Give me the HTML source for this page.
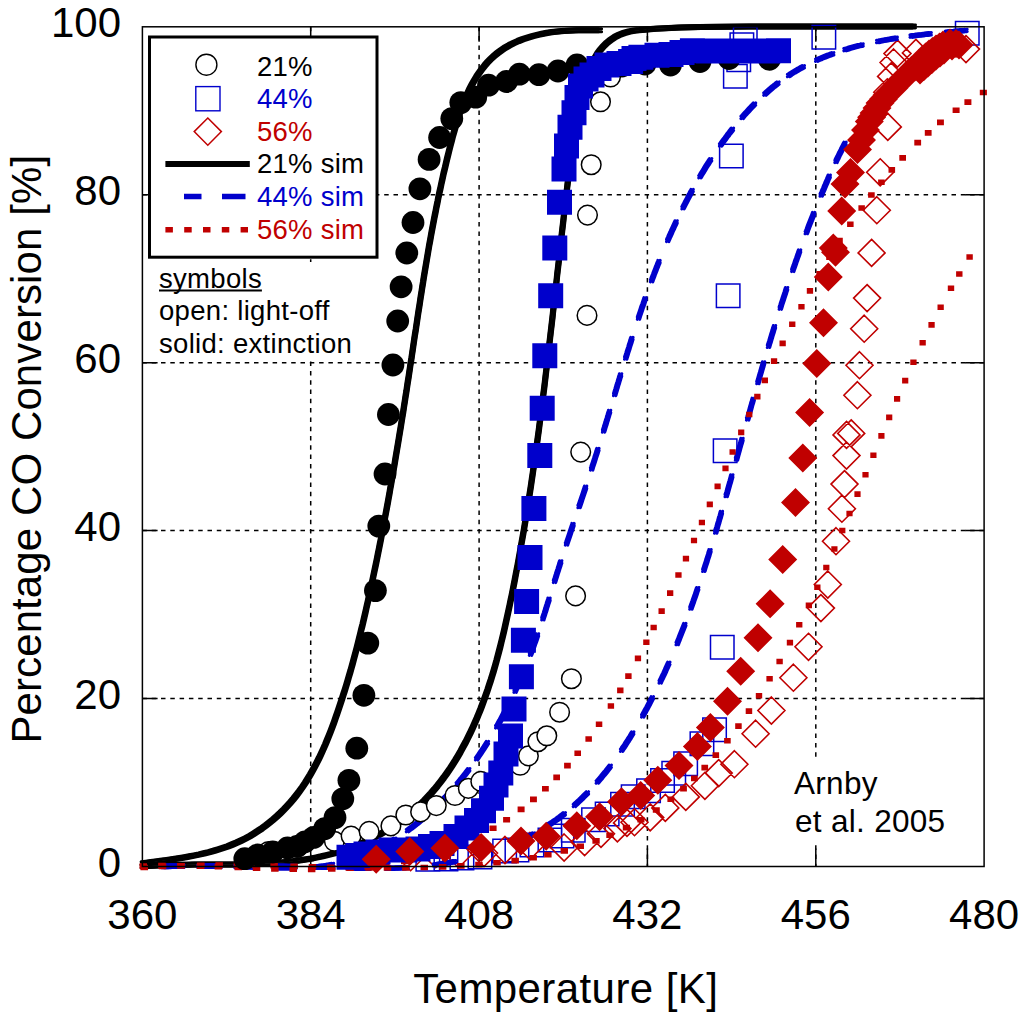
<!DOCTYPE html><html><head><meta charset="utf-8"><title>CO conversion</title><style>
html,body{margin:0;padding:0;background:#fff;width:1024px;height:1017px;overflow:hidden}
svg{display:block}text{font-family:"Liberation Sans",sans-serif}
</style></head><body>
<svg width="1024" height="1017" viewBox="0 0 1024 1017">
<rect width="1024" height="1017" fill="#fff"/>
<path d="M310.7,26.8V866.5 M479.1,26.8V866.5 M647.4,26.8V866.5 M815.8,26.8V866.5 M142.4,698.6H984.1 M142.4,530.6H984.1 M142.4,362.7H984.1 M142.4,194.7H984.1" stroke="#000" stroke-width="1.5" stroke-dasharray="4.5 4.8" fill="none"/>
<path d="M310.7,26.8v15 M310.7,866.5v-18 M479.1,26.8v15 M479.1,866.5v-18 M647.4,26.8v15 M647.4,866.5v-18 M815.8,26.8v15 M815.8,866.5v-18 M142.4,698.6h15.2 M984.1,698.6h-19 M142.4,530.6h15.2 M984.1,530.6h-19 M142.4,362.7h15.2 M984.1,362.7h-19 M142.4,194.7h15.2 M984.1,194.7h-19" stroke="#000" stroke-width="1.5" fill="none"/>
<rect x="786" y="758.5" width="166" height="83" fill="#fff"/>
<g>
<g><path transform="translate(-1.50,-1.50)" d="M142.6,863.3 L147.2,862.7 L151.9,862.1 L156.6,861.4 L161.4,860.8 L166.1,860.2 L170.9,859.5 L175.7,858.8 L180.6,858.0 L185.4,857.2 L190.2,856.3 L195.0,855.4 L199.8,854.4 L204.5,853.3 L209.3,852.1 L214.0,850.8 L218.6,849.4 L223.2,847.9 L227.8,846.3 L232.3,844.5 L236.7,842.7 L241.1,840.6 L245.4,838.5 L249.6,836.2 L253.7,833.7 L257.8,831.1 L261.8,828.4 L265.6,825.6 L269.4,822.6 L273.1,819.6 L276.8,816.4 L280.3,813.1 L283.7,809.7 L287.0,806.2 L290.2,802.7 L293.4,799.0 L296.4,795.2 L299.3,791.4 L302.1,787.5 L304.8,783.5 L307.4,779.4 L309.9,775.3 L312.3,771.1 L314.6,766.9 L316.8,762.6 L319.0,758.3 L321.1,753.9 L323.1,749.5 L325.1,745.0 L326.9,740.6 L328.8,736.0 L330.6,731.5 L332.3,727.0 L334.0,722.4 L335.6,717.8 L337.2,713.2 L338.8,708.6 L340.3,704.0 L341.8,699.5 L343.3,694.8 L344.8,690.2 L346.2,685.6 L347.6,681.0 L348.9,676.4 L350.3,671.8 L351.6,667.1 L352.9,662.5 L354.1,657.9 L355.4,653.2 L356.6,648.6 L357.8,643.9 L358.9,639.3 L360.1,634.6 L361.2,629.9 L362.4,625.3 L363.5,620.6 L364.6,615.9 L365.7,611.2 L366.7,606.5 L367.8,601.8 L368.8,597.1 L369.9,592.4 L370.9,587.7 L371.9,583.0 L372.9,578.3 L373.9,573.5 L374.9,568.8 L375.9,564.1 L376.9,559.3 L377.8,554.6 L378.8,549.8 L379.7,545.1 L380.7,540.3 L381.6,535.5 L382.5,530.8 L383.4,526.0 L384.3,521.2 L385.2,516.5 L386.1,511.7 L387.0,506.9 L387.9,502.1 L388.7,497.4 L389.6,492.6 L390.4,487.8 L391.3,483.0 L392.1,478.2 L393.0,473.4 L393.8,468.6 L394.6,463.9 L395.4,459.1 L396.2,454.3 L397.0,449.5 L397.8,444.7 L398.6,439.9 L399.4,435.1 L400.2,430.3 L401.0,425.5 L401.7,420.8 L402.5,416.0 L403.3,411.2 L404.0,406.4 L404.8,401.6 L405.5,396.8 L406.3,392.1 L407.0,387.3 L407.7,382.5 L408.5,377.7 L409.2,373.0 L409.9,368.2 L410.6,363.4 L411.4,358.7 L412.1,353.9 L412.8,349.2 L413.5,344.4 L414.2,339.6 L414.9,334.9 L415.7,330.2 L416.4,325.4 L417.1,320.7 L417.8,315.9 L418.5,311.2 L419.3,306.4 L420.0,301.7 L420.7,297.0 L421.5,292.2 L422.2,287.5 L423.0,282.8 L423.7,278.0 L424.5,273.3 L425.3,268.5 L426.1,263.8 L426.9,259.1 L427.7,254.3 L428.5,249.6 L429.3,244.8 L430.2,240.1 L431.0,235.4 L431.9,230.6 L432.8,225.9 L433.7,221.1 L434.6,216.4 L435.6,211.6 L436.5,206.8 L437.5,202.1 L438.4,197.3 L439.4,192.6 L440.5,187.8 L441.5,183.0 L442.6,178.2 L443.6,173.4 L444.8,168.7 L445.9,163.9 L447.0,159.1 L448.2,154.3 L449.4,149.5 L450.6,144.7 L451.9,139.9 L453.1,135.0 L454.5,130.3 L455.8,125.5 L457.3,120.8 L458.8,116.1 L460.3,111.4 L462.0,106.8 L463.7,102.3 L465.6,97.8 L467.5,93.5 L469.5,89.2 L471.7,85.0 L474.0,80.9 L476.4,76.9 L479.0,73.1 L481.7,69.4 L484.5,65.8 L487.5,62.3 L490.7,59.0 L494.1,55.9 L497.6,53.0 L501.4,50.2 L505.3,47.6 L509.5,45.2 L513.8,43.0 L518.3,41.0 L523.0,39.2 L527.8,37.6 L532.7,36.1 L537.6,34.9 L542.7,33.8 L547.7,32.8 L552.7,32.1 L557.7,31.5 L562.7,31.0 L567.6,30.7 L572.5,30.5 L577.3,30.3 L582.0,30.3 L586.6,30.2 L591.2,30.2 L595.7,30.3 L600.1,30.3" stroke="#000" stroke-width="3.00" stroke-linejoin="round" fill="none" stroke-linecap="round"/><path transform="translate(1.50,-1.50)" d="M142.6,863.3 L147.2,862.7 L151.9,862.1 L156.6,861.4 L161.4,860.8 L166.1,860.2 L170.9,859.5 L175.7,858.8 L180.6,858.0 L185.4,857.2 L190.2,856.3 L195.0,855.4 L199.8,854.4 L204.5,853.3 L209.3,852.1 L214.0,850.8 L218.6,849.4 L223.2,847.9 L227.8,846.3 L232.3,844.5 L236.7,842.7 L241.1,840.6 L245.4,838.5 L249.6,836.2 L253.7,833.7 L257.8,831.1 L261.8,828.4 L265.6,825.6 L269.4,822.6 L273.1,819.6 L276.8,816.4 L280.3,813.1 L283.7,809.7 L287.0,806.2 L290.2,802.7 L293.4,799.0 L296.4,795.2 L299.3,791.4 L302.1,787.5 L304.8,783.5 L307.4,779.4 L309.9,775.3 L312.3,771.1 L314.6,766.9 L316.8,762.6 L319.0,758.3 L321.1,753.9 L323.1,749.5 L325.1,745.0 L326.9,740.6 L328.8,736.0 L330.6,731.5 L332.3,727.0 L334.0,722.4 L335.6,717.8 L337.2,713.2 L338.8,708.6 L340.3,704.0 L341.8,699.5 L343.3,694.8 L344.8,690.2 L346.2,685.6 L347.6,681.0 L348.9,676.4 L350.3,671.8 L351.6,667.1 L352.9,662.5 L354.1,657.9 L355.4,653.2 L356.6,648.6 L357.8,643.9 L358.9,639.3 L360.1,634.6 L361.2,629.9 L362.4,625.3 L363.5,620.6 L364.6,615.9 L365.7,611.2 L366.7,606.5 L367.8,601.8 L368.8,597.1 L369.9,592.4 L370.9,587.7 L371.9,583.0 L372.9,578.3 L373.9,573.5 L374.9,568.8 L375.9,564.1 L376.9,559.3 L377.8,554.6 L378.8,549.8 L379.7,545.1 L380.7,540.3 L381.6,535.5 L382.5,530.8 L383.4,526.0 L384.3,521.2 L385.2,516.5 L386.1,511.7 L387.0,506.9 L387.9,502.1 L388.7,497.4 L389.6,492.6 L390.4,487.8 L391.3,483.0 L392.1,478.2 L393.0,473.4 L393.8,468.6 L394.6,463.9 L395.4,459.1 L396.2,454.3 L397.0,449.5 L397.8,444.7 L398.6,439.9 L399.4,435.1 L400.2,430.3 L401.0,425.5 L401.7,420.8 L402.5,416.0 L403.3,411.2 L404.0,406.4 L404.8,401.6 L405.5,396.8 L406.3,392.1 L407.0,387.3 L407.7,382.5 L408.5,377.7 L409.2,373.0 L409.9,368.2 L410.6,363.4 L411.4,358.7 L412.1,353.9 L412.8,349.2 L413.5,344.4 L414.2,339.6 L414.9,334.9 L415.7,330.2 L416.4,325.4 L417.1,320.7 L417.8,315.9 L418.5,311.2 L419.3,306.4 L420.0,301.7 L420.7,297.0 L421.5,292.2 L422.2,287.5 L423.0,282.8 L423.7,278.0 L424.5,273.3 L425.3,268.5 L426.1,263.8 L426.9,259.1 L427.7,254.3 L428.5,249.6 L429.3,244.8 L430.2,240.1 L431.0,235.4 L431.9,230.6 L432.8,225.9 L433.7,221.1 L434.6,216.4 L435.6,211.6 L436.5,206.8 L437.5,202.1 L438.4,197.3 L439.4,192.6 L440.5,187.8 L441.5,183.0 L442.6,178.2 L443.6,173.4 L444.8,168.7 L445.9,163.9 L447.0,159.1 L448.2,154.3 L449.4,149.5 L450.6,144.7 L451.9,139.9 L453.1,135.0 L454.5,130.3 L455.8,125.5 L457.3,120.8 L458.8,116.1 L460.3,111.4 L462.0,106.8 L463.7,102.3 L465.6,97.8 L467.5,93.5 L469.5,89.2 L471.7,85.0 L474.0,80.9 L476.4,76.9 L479.0,73.1 L481.7,69.4 L484.5,65.8 L487.5,62.3 L490.7,59.0 L494.1,55.9 L497.6,53.0 L501.4,50.2 L505.3,47.6 L509.5,45.2 L513.8,43.0 L518.3,41.0 L523.0,39.2 L527.8,37.6 L532.7,36.1 L537.6,34.9 L542.7,33.8 L547.7,32.8 L552.7,32.1 L557.7,31.5 L562.7,31.0 L567.6,30.7 L572.5,30.5 L577.3,30.3 L582.0,30.3 L586.6,30.2 L591.2,30.2 L595.7,30.3 L600.1,30.3" stroke="#000" stroke-width="3.00" stroke-linejoin="round" fill="none" stroke-linecap="round"/><path transform="translate(-1.50,1.50)" d="M142.6,863.3 L147.2,862.7 L151.9,862.1 L156.6,861.4 L161.4,860.8 L166.1,860.2 L170.9,859.5 L175.7,858.8 L180.6,858.0 L185.4,857.2 L190.2,856.3 L195.0,855.4 L199.8,854.4 L204.5,853.3 L209.3,852.1 L214.0,850.8 L218.6,849.4 L223.2,847.9 L227.8,846.3 L232.3,844.5 L236.7,842.7 L241.1,840.6 L245.4,838.5 L249.6,836.2 L253.7,833.7 L257.8,831.1 L261.8,828.4 L265.6,825.6 L269.4,822.6 L273.1,819.6 L276.8,816.4 L280.3,813.1 L283.7,809.7 L287.0,806.2 L290.2,802.7 L293.4,799.0 L296.4,795.2 L299.3,791.4 L302.1,787.5 L304.8,783.5 L307.4,779.4 L309.9,775.3 L312.3,771.1 L314.6,766.9 L316.8,762.6 L319.0,758.3 L321.1,753.9 L323.1,749.5 L325.1,745.0 L326.9,740.6 L328.8,736.0 L330.6,731.5 L332.3,727.0 L334.0,722.4 L335.6,717.8 L337.2,713.2 L338.8,708.6 L340.3,704.0 L341.8,699.5 L343.3,694.8 L344.8,690.2 L346.2,685.6 L347.6,681.0 L348.9,676.4 L350.3,671.8 L351.6,667.1 L352.9,662.5 L354.1,657.9 L355.4,653.2 L356.6,648.6 L357.8,643.9 L358.9,639.3 L360.1,634.6 L361.2,629.9 L362.4,625.3 L363.5,620.6 L364.6,615.9 L365.7,611.2 L366.7,606.5 L367.8,601.8 L368.8,597.1 L369.9,592.4 L370.9,587.7 L371.9,583.0 L372.9,578.3 L373.9,573.5 L374.9,568.8 L375.9,564.1 L376.9,559.3 L377.8,554.6 L378.8,549.8 L379.7,545.1 L380.7,540.3 L381.6,535.5 L382.5,530.8 L383.4,526.0 L384.3,521.2 L385.2,516.5 L386.1,511.7 L387.0,506.9 L387.9,502.1 L388.7,497.4 L389.6,492.6 L390.4,487.8 L391.3,483.0 L392.1,478.2 L393.0,473.4 L393.8,468.6 L394.6,463.9 L395.4,459.1 L396.2,454.3 L397.0,449.5 L397.8,444.7 L398.6,439.9 L399.4,435.1 L400.2,430.3 L401.0,425.5 L401.7,420.8 L402.5,416.0 L403.3,411.2 L404.0,406.4 L404.8,401.6 L405.5,396.8 L406.3,392.1 L407.0,387.3 L407.7,382.5 L408.5,377.7 L409.2,373.0 L409.9,368.2 L410.6,363.4 L411.4,358.7 L412.1,353.9 L412.8,349.2 L413.5,344.4 L414.2,339.6 L414.9,334.9 L415.7,330.2 L416.4,325.4 L417.1,320.7 L417.8,315.9 L418.5,311.2 L419.3,306.4 L420.0,301.7 L420.7,297.0 L421.5,292.2 L422.2,287.5 L423.0,282.8 L423.7,278.0 L424.5,273.3 L425.3,268.5 L426.1,263.8 L426.9,259.1 L427.7,254.3 L428.5,249.6 L429.3,244.8 L430.2,240.1 L431.0,235.4 L431.9,230.6 L432.8,225.9 L433.7,221.1 L434.6,216.4 L435.6,211.6 L436.5,206.8 L437.5,202.1 L438.4,197.3 L439.4,192.6 L440.5,187.8 L441.5,183.0 L442.6,178.2 L443.6,173.4 L444.8,168.7 L445.9,163.9 L447.0,159.1 L448.2,154.3 L449.4,149.5 L450.6,144.7 L451.9,139.9 L453.1,135.0 L454.5,130.3 L455.8,125.5 L457.3,120.8 L458.8,116.1 L460.3,111.4 L462.0,106.8 L463.7,102.3 L465.6,97.8 L467.5,93.5 L469.5,89.2 L471.7,85.0 L474.0,80.9 L476.4,76.9 L479.0,73.1 L481.7,69.4 L484.5,65.8 L487.5,62.3 L490.7,59.0 L494.1,55.9 L497.6,53.0 L501.4,50.2 L505.3,47.6 L509.5,45.2 L513.8,43.0 L518.3,41.0 L523.0,39.2 L527.8,37.6 L532.7,36.1 L537.6,34.9 L542.7,33.8 L547.7,32.8 L552.7,32.1 L557.7,31.5 L562.7,31.0 L567.6,30.7 L572.5,30.5 L577.3,30.3 L582.0,30.3 L586.6,30.2 L591.2,30.2 L595.7,30.3 L600.1,30.3" stroke="#000" stroke-width="3.00" stroke-linejoin="round" fill="none" stroke-linecap="round"/><path transform="translate(1.50,1.50)" d="M142.6,863.3 L147.2,862.7 L151.9,862.1 L156.6,861.4 L161.4,860.8 L166.1,860.2 L170.9,859.5 L175.7,858.8 L180.6,858.0 L185.4,857.2 L190.2,856.3 L195.0,855.4 L199.8,854.4 L204.5,853.3 L209.3,852.1 L214.0,850.8 L218.6,849.4 L223.2,847.9 L227.8,846.3 L232.3,844.5 L236.7,842.7 L241.1,840.6 L245.4,838.5 L249.6,836.2 L253.7,833.7 L257.8,831.1 L261.8,828.4 L265.6,825.6 L269.4,822.6 L273.1,819.6 L276.8,816.4 L280.3,813.1 L283.7,809.7 L287.0,806.2 L290.2,802.7 L293.4,799.0 L296.4,795.2 L299.3,791.4 L302.1,787.5 L304.8,783.5 L307.4,779.4 L309.9,775.3 L312.3,771.1 L314.6,766.9 L316.8,762.6 L319.0,758.3 L321.1,753.9 L323.1,749.5 L325.1,745.0 L326.9,740.6 L328.8,736.0 L330.6,731.5 L332.3,727.0 L334.0,722.4 L335.6,717.8 L337.2,713.2 L338.8,708.6 L340.3,704.0 L341.8,699.5 L343.3,694.8 L344.8,690.2 L346.2,685.6 L347.6,681.0 L348.9,676.4 L350.3,671.8 L351.6,667.1 L352.9,662.5 L354.1,657.9 L355.4,653.2 L356.6,648.6 L357.8,643.9 L358.9,639.3 L360.1,634.6 L361.2,629.9 L362.4,625.3 L363.5,620.6 L364.6,615.9 L365.7,611.2 L366.7,606.5 L367.8,601.8 L368.8,597.1 L369.9,592.4 L370.9,587.7 L371.9,583.0 L372.9,578.3 L373.9,573.5 L374.9,568.8 L375.9,564.1 L376.9,559.3 L377.8,554.6 L378.8,549.8 L379.7,545.1 L380.7,540.3 L381.6,535.5 L382.5,530.8 L383.4,526.0 L384.3,521.2 L385.2,516.5 L386.1,511.7 L387.0,506.9 L387.9,502.1 L388.7,497.4 L389.6,492.6 L390.4,487.8 L391.3,483.0 L392.1,478.2 L393.0,473.4 L393.8,468.6 L394.6,463.9 L395.4,459.1 L396.2,454.3 L397.0,449.5 L397.8,444.7 L398.6,439.9 L399.4,435.1 L400.2,430.3 L401.0,425.5 L401.7,420.8 L402.5,416.0 L403.3,411.2 L404.0,406.4 L404.8,401.6 L405.5,396.8 L406.3,392.1 L407.0,387.3 L407.7,382.5 L408.5,377.7 L409.2,373.0 L409.9,368.2 L410.6,363.4 L411.4,358.7 L412.1,353.9 L412.8,349.2 L413.5,344.4 L414.2,339.6 L414.9,334.9 L415.7,330.2 L416.4,325.4 L417.1,320.7 L417.8,315.9 L418.5,311.2 L419.3,306.4 L420.0,301.7 L420.7,297.0 L421.5,292.2 L422.2,287.5 L423.0,282.8 L423.7,278.0 L424.5,273.3 L425.3,268.5 L426.1,263.8 L426.9,259.1 L427.7,254.3 L428.5,249.6 L429.3,244.8 L430.2,240.1 L431.0,235.4 L431.9,230.6 L432.8,225.9 L433.7,221.1 L434.6,216.4 L435.6,211.6 L436.5,206.8 L437.5,202.1 L438.4,197.3 L439.4,192.6 L440.5,187.8 L441.5,183.0 L442.6,178.2 L443.6,173.4 L444.8,168.7 L445.9,163.9 L447.0,159.1 L448.2,154.3 L449.4,149.5 L450.6,144.7 L451.9,139.9 L453.1,135.0 L454.5,130.3 L455.8,125.5 L457.3,120.8 L458.8,116.1 L460.3,111.4 L462.0,106.8 L463.7,102.3 L465.6,97.8 L467.5,93.5 L469.5,89.2 L471.7,85.0 L474.0,80.9 L476.4,76.9 L479.0,73.1 L481.7,69.4 L484.5,65.8 L487.5,62.3 L490.7,59.0 L494.1,55.9 L497.6,53.0 L501.4,50.2 L505.3,47.6 L509.5,45.2 L513.8,43.0 L518.3,41.0 L523.0,39.2 L527.8,37.6 L532.7,36.1 L537.6,34.9 L542.7,33.8 L547.7,32.8 L552.7,32.1 L557.7,31.5 L562.7,31.0 L567.6,30.7 L572.5,30.5 L577.3,30.3 L582.0,30.3 L586.6,30.2 L591.2,30.2 L595.7,30.3 L600.1,30.3" stroke="#000" stroke-width="3.00" stroke-linejoin="round" fill="none" stroke-linecap="round"/></g>
<g><path transform="translate(-1.50,-1.50)" d="M142.6,866.4 L147.6,866.0 L152.6,865.7 L157.6,865.4 L162.7,865.2 L167.7,865.0 L172.8,864.9 L177.9,864.8 L183.0,864.7 L188.2,864.7 L193.3,864.6 L198.5,864.6 L203.7,864.6 L208.9,864.6 L214.0,864.6 L219.2,864.6 L224.4,864.6 L229.7,864.5 L234.9,864.5 L240.1,864.4 L245.3,864.3 L250.5,864.2 L255.7,864.0 L260.9,863.8 L266.0,863.5 L271.2,863.2 L276.4,862.8 L281.5,862.4 L286.7,861.9 L291.8,861.4 L296.9,860.7 L302.0,860.0 L307.0,859.2 L312.1,858.4 L317.1,857.4 L322.1,856.3 L327.0,855.1 L332.0,853.9 L336.9,852.5 L341.7,851.0 L346.6,849.3 L351.4,847.6 L356.1,845.7 L360.8,843.8 L365.5,841.7 L370.1,839.5 L374.7,837.2 L379.2,834.8 L383.6,832.2 L388.0,829.6 L392.3,826.9 L396.5,824.0 L400.7,821.0 L404.8,818.0 L408.8,814.8 L412.7,811.5 L416.5,808.1 L420.3,804.6 L423.9,801.0 L427.4,797.3 L430.9,793.5 L434.3,789.6 L437.5,785.7 L440.7,781.6 L443.8,777.5 L446.8,773.3 L449.8,769.0 L452.6,764.7 L455.4,760.3 L458.0,755.9 L460.6,751.4 L463.1,746.8 L465.6,742.3 L467.9,737.6 L470.2,733.0 L472.4,728.3 L474.5,723.6 L476.6,718.9 L478.5,714.2 L480.5,709.4 L482.3,704.6 L484.1,699.8 L485.8,695.0 L487.5,690.2 L489.1,685.3 L490.7,680.5 L492.2,675.6 L493.7,670.7 L495.1,665.8 L496.5,660.9 L497.8,655.9 L499.1,651.0 L500.4,646.0 L501.6,641.0 L502.8,636.1 L504.0,631.1 L505.1,626.1 L506.2,621.1 L507.3,616.1 L508.4,611.1 L509.5,606.0 L510.5,601.0 L511.6,596.0 L512.6,591.0 L513.6,585.9 L514.6,580.9 L515.5,575.9 L516.5,570.8 L517.5,565.8 L518.4,560.8 L519.3,555.7 L520.2,550.7 L521.1,545.6 L522.0,540.6 L522.9,535.5 L523.8,530.4 L524.6,525.4 L525.5,520.3 L526.3,515.2 L527.1,510.2 L527.9,505.1 L528.7,500.0 L529.5,494.9 L530.3,489.9 L531.1,484.8 L531.8,479.7 L532.6,474.6 L533.3,469.5 L534.1,464.4 L534.8,459.4 L535.5,454.3 L536.2,449.2 L536.9,444.1 L537.6,439.0 L538.3,433.9 L539.0,428.8 L539.6,423.7 L540.3,418.6 L541.0,413.5 L541.6,408.4 L542.3,403.3 L542.9,398.2 L543.5,393.1 L544.2,388.0 L544.8,382.8 L545.4,377.7 L546.0,372.6 L546.6,367.5 L547.3,362.4 L547.9,357.3 L548.5,352.2 L549.0,347.1 L549.6,342.0 L550.2,336.9 L550.8,331.7 L551.4,326.6 L552.0,321.5 L552.6,316.4 L553.1,311.3 L553.7,306.2 L554.3,301.1 L554.9,296.0 L555.4,290.9 L556.0,285.7 L556.6,280.6 L557.1,275.5 L557.7,270.4 L558.3,265.3 L558.9,260.2 L559.4,255.1 L560.0,250.0 L560.6,244.9 L561.1,239.8 L561.7,234.7 L562.3,229.6 L562.9,224.5 L563.5,219.4 L564.0,214.3 L564.6,209.2 L565.2,204.1 L565.8,199.0 L566.4,193.9 L567.0,188.9 L567.6,183.8 L568.2,178.7 L568.8,173.6 L569.5,168.5 L570.1,163.4 L570.8,158.4 L571.5,153.3 L572.2,148.2 L572.9,143.1 L573.7,138.0 L574.5,133.0 L575.3,127.9 L576.2,122.8 L577.1,117.7 L578.1,112.6 L579.1,107.5 L580.2,102.5 L581.3,97.4 L582.5,92.3 L583.8,87.2 L585.2,82.1 L586.7,77.2 L588.4,72.3 L590.2,67.5 L592.3,62.9 L594.6,58.5 L597.1,54.2 L600.0,50.2 L603.2,46.5 L606.6,43.1 L610.5,40.0 L614.6,37.2 L619.1,34.9 L624.0,33.0 L629.3,31.5 L634.9,30.5 L640.9,30.1 L655.0,28.8 L680.0,27.4 L700.0,26.9 L750.0,26.6 L914.0,26.5" stroke="#000" stroke-width="3.00" stroke-linejoin="round" fill="none" stroke-linecap="round"/><path transform="translate(1.50,-1.50)" d="M142.6,866.4 L147.6,866.0 L152.6,865.7 L157.6,865.4 L162.7,865.2 L167.7,865.0 L172.8,864.9 L177.9,864.8 L183.0,864.7 L188.2,864.7 L193.3,864.6 L198.5,864.6 L203.7,864.6 L208.9,864.6 L214.0,864.6 L219.2,864.6 L224.4,864.6 L229.7,864.5 L234.9,864.5 L240.1,864.4 L245.3,864.3 L250.5,864.2 L255.7,864.0 L260.9,863.8 L266.0,863.5 L271.2,863.2 L276.4,862.8 L281.5,862.4 L286.7,861.9 L291.8,861.4 L296.9,860.7 L302.0,860.0 L307.0,859.2 L312.1,858.4 L317.1,857.4 L322.1,856.3 L327.0,855.1 L332.0,853.9 L336.9,852.5 L341.7,851.0 L346.6,849.3 L351.4,847.6 L356.1,845.7 L360.8,843.8 L365.5,841.7 L370.1,839.5 L374.7,837.2 L379.2,834.8 L383.6,832.2 L388.0,829.6 L392.3,826.9 L396.5,824.0 L400.7,821.0 L404.8,818.0 L408.8,814.8 L412.7,811.5 L416.5,808.1 L420.3,804.6 L423.9,801.0 L427.4,797.3 L430.9,793.5 L434.3,789.6 L437.5,785.7 L440.7,781.6 L443.8,777.5 L446.8,773.3 L449.8,769.0 L452.6,764.7 L455.4,760.3 L458.0,755.9 L460.6,751.4 L463.1,746.8 L465.6,742.3 L467.9,737.6 L470.2,733.0 L472.4,728.3 L474.5,723.6 L476.6,718.9 L478.5,714.2 L480.5,709.4 L482.3,704.6 L484.1,699.8 L485.8,695.0 L487.5,690.2 L489.1,685.3 L490.7,680.5 L492.2,675.6 L493.7,670.7 L495.1,665.8 L496.5,660.9 L497.8,655.9 L499.1,651.0 L500.4,646.0 L501.6,641.0 L502.8,636.1 L504.0,631.1 L505.1,626.1 L506.2,621.1 L507.3,616.1 L508.4,611.1 L509.5,606.0 L510.5,601.0 L511.6,596.0 L512.6,591.0 L513.6,585.9 L514.6,580.9 L515.5,575.9 L516.5,570.8 L517.5,565.8 L518.4,560.8 L519.3,555.7 L520.2,550.7 L521.1,545.6 L522.0,540.6 L522.9,535.5 L523.8,530.4 L524.6,525.4 L525.5,520.3 L526.3,515.2 L527.1,510.2 L527.9,505.1 L528.7,500.0 L529.5,494.9 L530.3,489.9 L531.1,484.8 L531.8,479.7 L532.6,474.6 L533.3,469.5 L534.1,464.4 L534.8,459.4 L535.5,454.3 L536.2,449.2 L536.9,444.1 L537.6,439.0 L538.3,433.9 L539.0,428.8 L539.6,423.7 L540.3,418.6 L541.0,413.5 L541.6,408.4 L542.3,403.3 L542.9,398.2 L543.5,393.1 L544.2,388.0 L544.8,382.8 L545.4,377.7 L546.0,372.6 L546.6,367.5 L547.3,362.4 L547.9,357.3 L548.5,352.2 L549.0,347.1 L549.6,342.0 L550.2,336.9 L550.8,331.7 L551.4,326.6 L552.0,321.5 L552.6,316.4 L553.1,311.3 L553.7,306.2 L554.3,301.1 L554.9,296.0 L555.4,290.9 L556.0,285.7 L556.6,280.6 L557.1,275.5 L557.7,270.4 L558.3,265.3 L558.9,260.2 L559.4,255.1 L560.0,250.0 L560.6,244.9 L561.1,239.8 L561.7,234.7 L562.3,229.6 L562.9,224.5 L563.5,219.4 L564.0,214.3 L564.6,209.2 L565.2,204.1 L565.8,199.0 L566.4,193.9 L567.0,188.9 L567.6,183.8 L568.2,178.7 L568.8,173.6 L569.5,168.5 L570.1,163.4 L570.8,158.4 L571.5,153.3 L572.2,148.2 L572.9,143.1 L573.7,138.0 L574.5,133.0 L575.3,127.9 L576.2,122.8 L577.1,117.7 L578.1,112.6 L579.1,107.5 L580.2,102.5 L581.3,97.4 L582.5,92.3 L583.8,87.2 L585.2,82.1 L586.7,77.2 L588.4,72.3 L590.2,67.5 L592.3,62.9 L594.6,58.5 L597.1,54.2 L600.0,50.2 L603.2,46.5 L606.6,43.1 L610.5,40.0 L614.6,37.2 L619.1,34.9 L624.0,33.0 L629.3,31.5 L634.9,30.5 L640.9,30.1 L655.0,28.8 L680.0,27.4 L700.0,26.9 L750.0,26.6 L914.0,26.5" stroke="#000" stroke-width="3.00" stroke-linejoin="round" fill="none" stroke-linecap="round"/><path transform="translate(-1.50,1.50)" d="M142.6,866.4 L147.6,866.0 L152.6,865.7 L157.6,865.4 L162.7,865.2 L167.7,865.0 L172.8,864.9 L177.9,864.8 L183.0,864.7 L188.2,864.7 L193.3,864.6 L198.5,864.6 L203.7,864.6 L208.9,864.6 L214.0,864.6 L219.2,864.6 L224.4,864.6 L229.7,864.5 L234.9,864.5 L240.1,864.4 L245.3,864.3 L250.5,864.2 L255.7,864.0 L260.9,863.8 L266.0,863.5 L271.2,863.2 L276.4,862.8 L281.5,862.4 L286.7,861.9 L291.8,861.4 L296.9,860.7 L302.0,860.0 L307.0,859.2 L312.1,858.4 L317.1,857.4 L322.1,856.3 L327.0,855.1 L332.0,853.9 L336.9,852.5 L341.7,851.0 L346.6,849.3 L351.4,847.6 L356.1,845.7 L360.8,843.8 L365.5,841.7 L370.1,839.5 L374.7,837.2 L379.2,834.8 L383.6,832.2 L388.0,829.6 L392.3,826.9 L396.5,824.0 L400.7,821.0 L404.8,818.0 L408.8,814.8 L412.7,811.5 L416.5,808.1 L420.3,804.6 L423.9,801.0 L427.4,797.3 L430.9,793.5 L434.3,789.6 L437.5,785.7 L440.7,781.6 L443.8,777.5 L446.8,773.3 L449.8,769.0 L452.6,764.7 L455.4,760.3 L458.0,755.9 L460.6,751.4 L463.1,746.8 L465.6,742.3 L467.9,737.6 L470.2,733.0 L472.4,728.3 L474.5,723.6 L476.6,718.9 L478.5,714.2 L480.5,709.4 L482.3,704.6 L484.1,699.8 L485.8,695.0 L487.5,690.2 L489.1,685.3 L490.7,680.5 L492.2,675.6 L493.7,670.7 L495.1,665.8 L496.5,660.9 L497.8,655.9 L499.1,651.0 L500.4,646.0 L501.6,641.0 L502.8,636.1 L504.0,631.1 L505.1,626.1 L506.2,621.1 L507.3,616.1 L508.4,611.1 L509.5,606.0 L510.5,601.0 L511.6,596.0 L512.6,591.0 L513.6,585.9 L514.6,580.9 L515.5,575.9 L516.5,570.8 L517.5,565.8 L518.4,560.8 L519.3,555.7 L520.2,550.7 L521.1,545.6 L522.0,540.6 L522.9,535.5 L523.8,530.4 L524.6,525.4 L525.5,520.3 L526.3,515.2 L527.1,510.2 L527.9,505.1 L528.7,500.0 L529.5,494.9 L530.3,489.9 L531.1,484.8 L531.8,479.7 L532.6,474.6 L533.3,469.5 L534.1,464.4 L534.8,459.4 L535.5,454.3 L536.2,449.2 L536.9,444.1 L537.6,439.0 L538.3,433.9 L539.0,428.8 L539.6,423.7 L540.3,418.6 L541.0,413.5 L541.6,408.4 L542.3,403.3 L542.9,398.2 L543.5,393.1 L544.2,388.0 L544.8,382.8 L545.4,377.7 L546.0,372.6 L546.6,367.5 L547.3,362.4 L547.9,357.3 L548.5,352.2 L549.0,347.1 L549.6,342.0 L550.2,336.9 L550.8,331.7 L551.4,326.6 L552.0,321.5 L552.6,316.4 L553.1,311.3 L553.7,306.2 L554.3,301.1 L554.9,296.0 L555.4,290.9 L556.0,285.7 L556.6,280.6 L557.1,275.5 L557.7,270.4 L558.3,265.3 L558.9,260.2 L559.4,255.1 L560.0,250.0 L560.6,244.9 L561.1,239.8 L561.7,234.7 L562.3,229.6 L562.9,224.5 L563.5,219.4 L564.0,214.3 L564.6,209.2 L565.2,204.1 L565.8,199.0 L566.4,193.9 L567.0,188.9 L567.6,183.8 L568.2,178.7 L568.8,173.6 L569.5,168.5 L570.1,163.4 L570.8,158.4 L571.5,153.3 L572.2,148.2 L572.9,143.1 L573.7,138.0 L574.5,133.0 L575.3,127.9 L576.2,122.8 L577.1,117.7 L578.1,112.6 L579.1,107.5 L580.2,102.5 L581.3,97.4 L582.5,92.3 L583.8,87.2 L585.2,82.1 L586.7,77.2 L588.4,72.3 L590.2,67.5 L592.3,62.9 L594.6,58.5 L597.1,54.2 L600.0,50.2 L603.2,46.5 L606.6,43.1 L610.5,40.0 L614.6,37.2 L619.1,34.9 L624.0,33.0 L629.3,31.5 L634.9,30.5 L640.9,30.1 L655.0,28.8 L680.0,27.4 L700.0,26.9 L750.0,26.6 L914.0,26.5" stroke="#000" stroke-width="3.00" stroke-linejoin="round" fill="none" stroke-linecap="round"/><path transform="translate(1.50,1.50)" d="M142.6,866.4 L147.6,866.0 L152.6,865.7 L157.6,865.4 L162.7,865.2 L167.7,865.0 L172.8,864.9 L177.9,864.8 L183.0,864.7 L188.2,864.7 L193.3,864.6 L198.5,864.6 L203.7,864.6 L208.9,864.6 L214.0,864.6 L219.2,864.6 L224.4,864.6 L229.7,864.5 L234.9,864.5 L240.1,864.4 L245.3,864.3 L250.5,864.2 L255.7,864.0 L260.9,863.8 L266.0,863.5 L271.2,863.2 L276.4,862.8 L281.5,862.4 L286.7,861.9 L291.8,861.4 L296.9,860.7 L302.0,860.0 L307.0,859.2 L312.1,858.4 L317.1,857.4 L322.1,856.3 L327.0,855.1 L332.0,853.9 L336.9,852.5 L341.7,851.0 L346.6,849.3 L351.4,847.6 L356.1,845.7 L360.8,843.8 L365.5,841.7 L370.1,839.5 L374.7,837.2 L379.2,834.8 L383.6,832.2 L388.0,829.6 L392.3,826.9 L396.5,824.0 L400.7,821.0 L404.8,818.0 L408.8,814.8 L412.7,811.5 L416.5,808.1 L420.3,804.6 L423.9,801.0 L427.4,797.3 L430.9,793.5 L434.3,789.6 L437.5,785.7 L440.7,781.6 L443.8,777.5 L446.8,773.3 L449.8,769.0 L452.6,764.7 L455.4,760.3 L458.0,755.9 L460.6,751.4 L463.1,746.8 L465.6,742.3 L467.9,737.6 L470.2,733.0 L472.4,728.3 L474.5,723.6 L476.6,718.9 L478.5,714.2 L480.5,709.4 L482.3,704.6 L484.1,699.8 L485.8,695.0 L487.5,690.2 L489.1,685.3 L490.7,680.5 L492.2,675.6 L493.7,670.7 L495.1,665.8 L496.5,660.9 L497.8,655.9 L499.1,651.0 L500.4,646.0 L501.6,641.0 L502.8,636.1 L504.0,631.1 L505.1,626.1 L506.2,621.1 L507.3,616.1 L508.4,611.1 L509.5,606.0 L510.5,601.0 L511.6,596.0 L512.6,591.0 L513.6,585.9 L514.6,580.9 L515.5,575.9 L516.5,570.8 L517.5,565.8 L518.4,560.8 L519.3,555.7 L520.2,550.7 L521.1,545.6 L522.0,540.6 L522.9,535.5 L523.8,530.4 L524.6,525.4 L525.5,520.3 L526.3,515.2 L527.1,510.2 L527.9,505.1 L528.7,500.0 L529.5,494.9 L530.3,489.9 L531.1,484.8 L531.8,479.7 L532.6,474.6 L533.3,469.5 L534.1,464.4 L534.8,459.4 L535.5,454.3 L536.2,449.2 L536.9,444.1 L537.6,439.0 L538.3,433.9 L539.0,428.8 L539.6,423.7 L540.3,418.6 L541.0,413.5 L541.6,408.4 L542.3,403.3 L542.9,398.2 L543.5,393.1 L544.2,388.0 L544.8,382.8 L545.4,377.7 L546.0,372.6 L546.6,367.5 L547.3,362.4 L547.9,357.3 L548.5,352.2 L549.0,347.1 L549.6,342.0 L550.2,336.9 L550.8,331.7 L551.4,326.6 L552.0,321.5 L552.6,316.4 L553.1,311.3 L553.7,306.2 L554.3,301.1 L554.9,296.0 L555.4,290.9 L556.0,285.7 L556.6,280.6 L557.1,275.5 L557.7,270.4 L558.3,265.3 L558.9,260.2 L559.4,255.1 L560.0,250.0 L560.6,244.9 L561.1,239.8 L561.7,234.7 L562.3,229.6 L562.9,224.5 L563.5,219.4 L564.0,214.3 L564.6,209.2 L565.2,204.1 L565.8,199.0 L566.4,193.9 L567.0,188.9 L567.6,183.8 L568.2,178.7 L568.8,173.6 L569.5,168.5 L570.1,163.4 L570.8,158.4 L571.5,153.3 L572.2,148.2 L572.9,143.1 L573.7,138.0 L574.5,133.0 L575.3,127.9 L576.2,122.8 L577.1,117.7 L578.1,112.6 L579.1,107.5 L580.2,102.5 L581.3,97.4 L582.5,92.3 L583.8,87.2 L585.2,82.1 L586.7,77.2 L588.4,72.3 L590.2,67.5 L592.3,62.9 L594.6,58.5 L597.1,54.2 L600.0,50.2 L603.2,46.5 L606.6,43.1 L610.5,40.0 L614.6,37.2 L619.1,34.9 L624.0,33.0 L629.3,31.5 L634.9,30.5 L640.9,30.1 L655.0,28.8 L680.0,27.4 L700.0,26.9 L750.0,26.6 L914.0,26.5" stroke="#000" stroke-width="3.00" stroke-linejoin="round" fill="none" stroke-linecap="round"/></g>
<path d="M416.1,847.5h23.5v23.5h-23.5zM434.2,847.2h23.5v23.5h-23.5zM450.2,846.2h23.5v23.5h-23.5zM468.2,845.2h23.5v23.5h-23.5zM492.9,839.2h23.5v23.5h-23.5zM505.2,838.2h23.5v23.5h-23.5zM520.2,833.2h23.5v23.5h-23.5zM538.2,828.2h23.5v23.5h-23.5zM550.2,824.2h23.5v23.5h-23.5zM561.5,818.6h23.5v23.5h-23.5zM581.8,808.0h23.5v23.5h-23.5zM595.4,802.2h23.5v23.5h-23.5zM610.8,792.4h23.5v23.5h-23.5zM621.4,784.9h23.5v23.5h-23.5zM636.8,779.0h23.5v23.5h-23.5zM650.8,768.8h23.5v23.5h-23.5zM662.0,761.5h23.5v23.5h-23.5zM673.9,751.9h23.5v23.5h-23.5zM690.2,731.9h23.5v23.5h-23.5zM702.8,718.0h23.5v23.5h-23.5zM710.5,635.5h23.5v23.5h-23.5zM713.4,438.9h23.5v23.5h-23.5zM716.4,284.1h23.5v23.5h-23.5zM719.6,144.2h23.5v23.5h-23.5zM723.6,64.5h23.5v23.5h-23.5zM727.0,47.9h23.5v23.5h-23.5zM730.1,33.1h23.5v23.5h-23.5zM733.5,27.0h23.5v23.5h-23.5zM812.1,25.4h23.5v23.5h-23.5zM955.5,21.5h23.5v23.5h-23.5z" fill="none" stroke="#0000cc" stroke-width="1.5"/>
<path d="M410.6,843.7l13.5,13.5l-13.5,13.5l-13.5,-13.5zM435.7,840.7l13.5,13.5l-13.5,13.5l-13.5,-13.5zM458.5,840.7l13.5,13.5l-13.5,13.5l-13.5,-13.5zM484.0,839.5l13.5,13.5l-13.5,13.5l-13.5,-13.5zM505.0,836.5l13.5,13.5l-13.5,13.5l-13.5,-13.5zM530.0,832.5l13.5,13.5l-13.5,13.5l-13.5,-13.5zM564.1,834.0l13.5,13.5l-13.5,13.5l-13.5,-13.5zM584.6,828.5l13.5,13.5l-13.5,13.5l-13.5,-13.5zM601.0,820.3l13.5,13.5l-13.5,13.5l-13.5,-13.5zM617.4,814.9l13.5,13.5l-13.5,13.5l-13.5,-13.5zM627.0,809.4l13.5,13.5l-13.5,13.5l-13.5,-13.5zM634.5,808.7l13.5,13.5l-13.5,13.5l-13.5,-13.5zM650.2,803.9l13.5,13.5l-13.5,13.5l-13.5,-13.5zM665.3,794.4l13.5,13.5l-13.5,13.5l-13.5,-13.5zM685.8,783.4l13.5,13.5l-13.5,13.5l-13.5,-13.5zM704.9,772.3l13.5,13.5l-13.5,13.5l-13.5,-13.5zM718.7,759.6l13.5,13.5l-13.5,13.5l-13.5,-13.5zM734.4,750.7l13.5,13.5l-13.5,13.5l-13.5,-13.5zM755.6,720.2l13.5,13.5l-13.5,13.5l-13.5,-13.5zM771.4,697.0l13.5,13.5l-13.5,13.5l-13.5,-13.5zM793.4,664.2l13.5,13.5l-13.5,13.5l-13.5,-13.5zM808.5,633.3l13.5,13.5l-13.5,13.5l-13.5,-13.5zM820.9,594.6l13.5,13.5l-13.5,13.5l-13.5,-13.5zM827.8,571.0l13.5,13.5l-13.5,13.5l-13.5,-13.5zM836.0,527.7l13.5,13.5l-13.5,13.5l-13.5,-13.5zM841.9,495.2l13.5,13.5l-13.5,13.5l-13.5,-13.5zM844.5,470.6l13.5,13.5l-13.5,13.5l-13.5,-13.5zM846.5,442.1l13.5,13.5l-13.5,13.5l-13.5,-13.5zM846.5,421.4l13.5,13.5l-13.5,13.5l-13.5,-13.5zM851.2,419.9l13.5,13.5l-13.5,13.5l-13.5,-13.5zM857.4,381.7l13.5,13.5l-13.5,13.5l-13.5,-13.5zM859.5,351.7l13.5,13.5l-13.5,13.5l-13.5,-13.5zM864.2,315.2l13.5,13.5l-13.5,13.5l-13.5,-13.5zM867.1,284.6l13.5,13.5l-13.5,13.5l-13.5,-13.5zM871.6,239.4l13.5,13.5l-13.5,13.5l-13.5,-13.5zM876.8,196.7l13.5,13.5l-13.5,13.5l-13.5,-13.5zM880.2,158.8l13.5,13.5l-13.5,13.5l-13.5,-13.5zM887.8,113.4l13.5,13.5l-13.5,13.5l-13.5,-13.5zM887.3,78.8l13.5,13.5l-13.5,13.5l-13.5,-13.5zM891.1,62.9l13.5,13.5l-13.5,13.5l-13.5,-13.5zM893.6,49.0l13.5,13.5l-13.5,13.5l-13.5,-13.5zM897.5,40.1l13.5,13.5l-13.5,13.5l-13.5,-13.5zM915.9,39.4l13.5,13.5l-13.5,13.5l-13.5,-13.5zM966.0,35.6l13.5,13.5l-13.5,13.5l-13.5,-13.5z" fill="none" stroke="#c00000" stroke-width="1.6"/>
<g><path transform="translate(-1.20,-1.20)" d="M162.3,866.2 L163.2,866.2 L165.1,866.2 L167.0,866.1 L168.8,866.1 L170.7,866.0 L172.6,866.0 L174.5,866.0 L176.3,866.0 L178.2,865.9 L180.1,865.9 L182.0,865.9 L182.8,865.9 M200.1,865.9 L200.8,865.9 L202.7,865.9 L204.5,865.9 L206.4,866.0 L208.3,866.0 L210.2,866.0 L212.1,866.0 L214.0,866.1 L215.8,866.1 L217.7,866.1 L219.6,866.2 L220.3,866.2 M235.9,866.5 L236.7,866.6 L238.6,866.6 L240.5,866.7 L242.4,866.7 L244.3,866.8 L246.2,866.8 L248.1,866.9 L250.0,866.9 L251.9,867.0 L253.8,867.1 L255.7,867.1 L256.4,867.1 M274.3,867.7 L274.9,867.7 L276.9,867.8 L278.8,867.8 L280.7,867.9 L282.7,867.9 L284.6,867.9 L286.5,867.9 L288.4,867.9 L290.4,867.9 L292.3,867.9 L294.2,867.9 L294.8,867.9 M312.8,867.1 L313.3,867.1 L315.1,866.9 L317.0,866.8 L318.9,866.6 L320.8,866.3 L322.6,866.1 L324.5,865.9 L326.4,865.6 L328.2,865.3 L330.1,865.0 L331.9,864.6 L332.5,864.5 M346.8,861.1 L348.2,860.7 L350.0,860.1 L351.8,859.6 L353.5,859.0 L355.3,858.4 L357.1,857.7 L358.8,857.1 L360.5,856.4 L362.3,855.8 L364.0,855.1 L364.5,854.9 M378.4,848.5 L379.2,848.1 L380.9,847.2 L382.5,846.3 L384.2,845.4 L385.8,844.5 L387.4,843.6 L389.1,842.7 L390.7,841.7 L392.3,840.7 L393.9,839.8 L394.8,839.2 M407.5,830.6 L407.9,830.3 L409.4,829.2 L410.9,828.1 L412.4,827.0 L413.9,825.8 L415.4,824.7 L416.8,823.5 L418.3,822.4 L419.7,821.2 L421.2,820.0 L422.3,819.1 M433.7,808.9 L433.8,808.8 L435.2,807.5 L436.5,806.2 L437.9,804.9 L439.2,803.6 L440.6,802.3 L441.9,800.9 L443.2,799.6 L444.5,798.2 L445.8,796.9 L447.0,795.6 M457.3,784.0 L458.3,782.8 L459.5,781.3 L460.7,779.8 L461.9,778.4 L463.1,776.9 L464.3,775.4 L465.5,773.9 L466.6,772.4 L467.8,770.9 L468.7,769.7 M476.6,758.8 L476.7,758.7 L477.8,757.1 L478.9,755.5 L480.0,753.9 L481.0,752.4 L482.1,750.8 L483.1,749.2 L484.2,747.6 L485.2,746.0 L486.2,744.4 L487.3,742.8 L487.4,742.6 M496.7,726.9 L497.1,726.3 L498.0,724.6 L498.9,723.0 L499.9,721.3 L500.8,719.6 L501.7,717.9 L502.6,716.2 L503.5,714.5 L504.4,712.8 L505.3,711.1 L506.2,709.4 L506.5,708.8 M515.1,691.2 L515.4,690.5 L516.2,688.7 L517.0,687.0 L517.8,685.2 L518.6,683.5 L519.3,681.7 L520.1,680.0 L520.9,678.2 L521.6,676.5 L522.4,674.7 L523.1,672.9 L523.3,672.4 M530.5,654.2 L530.8,653.5 L531.5,651.7 L532.2,649.9 L532.8,648.1 L533.5,646.4 L534.1,644.6 L534.7,642.8 L535.4,641.0 L536.0,639.3 L536.6,637.5 L537.2,635.7 L537.5,634.9 M542.9,618.8 L543.1,617.9 L543.7,616.1 L544.3,614.3 L544.8,612.6 L545.4,610.8 L546.0,609.0 L546.5,607.2 L547.1,605.4 L547.6,603.7 L548.2,601.9 L548.8,600.1 L549.0,599.2 M554.5,581.4 L554.8,580.5 L555.4,578.7 L555.9,577.0 L556.5,575.2 L557.0,573.4 L557.6,571.6 L558.2,569.8 L558.7,568.1 L559.3,566.3 L559.9,564.5 L560.4,562.7 L560.7,561.9 M566.5,544.0 L566.8,543.2 L567.4,541.4 L568.0,539.6 L568.6,537.9 L569.2,536.1 L569.8,534.3 L570.4,532.5 L571.0,530.7 L571.6,529.0 L572.2,527.2 L572.8,525.4 L573.0,524.6 M579.1,506.6 L579.4,505.8 L580.0,504.0 L580.6,502.3 L581.2,500.5 L581.8,498.7 L582.4,496.9 L583.0,495.1 L583.6,493.3 L584.2,491.5 L584.8,489.8 L585.4,488.0 L585.6,487.2 M591.6,469.0 L591.9,468.2 L592.4,466.4 L593.0,464.6 L593.6,462.8 L594.2,461.0 L594.8,459.2 L595.3,457.4 L595.9,455.6 L596.5,453.8 L597.1,452.0 L597.6,450.2 L597.9,449.5 M603.6,431.0 L603.8,430.3 L604.4,428.4 L604.9,426.6 L605.5,424.8 L606.1,423.0 L606.6,421.2 L607.2,419.4 L607.7,417.5 L608.3,415.7 L608.8,413.9 L609.4,412.1 L609.6,411.4 M614.7,394.5 L614.9,393.8 L615.4,392.0 L616.0,390.2 L616.5,388.4 L617.1,386.5 L617.6,384.7 L618.2,382.9 L618.7,381.1 L619.3,379.2 L619.8,377.4 L620.4,375.6 L620.6,374.9 M625.7,358.1 L625.9,357.4 L626.5,355.6 L627.1,353.7 L627.6,351.9 L628.2,350.1 L628.8,348.3 L629.3,346.5 L629.9,344.7 L630.5,342.8 L631.1,341.0 L631.6,339.2 L631.9,338.5 M638.5,318.2 L638.7,317.5 L639.3,315.7 L639.9,313.9 L640.5,312.1 L641.1,310.3 L641.7,308.5 L642.3,306.7 L643.0,304.9 L643.6,303.2 L644.2,301.4 L644.8,299.6 L645.1,298.8 M651.6,280.7 L651.9,280.0 L652.5,278.2 L653.2,276.4 L653.9,274.7 L654.5,272.9 L655.2,271.2 L655.9,269.4 L656.6,267.6 L657.3,265.9 L658.0,264.1 L658.7,262.4 L659.0,261.6 M667.7,240.5 L668.0,239.8 L668.8,238.0 L669.5,236.3 L670.3,234.6 L671.1,232.9 L671.8,231.2 L672.6,229.5 L673.4,227.8 L674.2,226.0 L675.0,224.3 L675.8,222.6 L676.1,221.9 M683.0,207.8 L683.2,207.5 L684.0,205.8 L684.9,204.1 L685.7,202.5 L686.6,200.8 L687.5,199.1 L688.3,197.5 L689.2,195.8 L690.1,194.2 L691.0,192.5 L691.9,190.9 L692.1,190.5 M699.9,176.8 L700.3,176.2 L701.2,174.6 L702.2,173.0 L703.2,171.4 L704.2,169.8 L705.1,168.2 L706.1,166.6 L707.1,165.0 L708.2,163.4 L709.2,161.8 L710.2,160.3 L710.6,159.7 M720.6,145.0 L720.8,144.7 L721.9,143.1 L723.0,141.6 L724.1,140.1 L725.3,138.6 L726.4,137.0 L727.5,135.5 L728.7,134.0 L729.8,132.5 L731.0,131.0 L732.2,129.5 L732.4,129.2 M742.1,117.5 L743.1,116.3 L744.3,114.9 L745.6,113.5 L746.9,112.1 L748.2,110.7 L749.5,109.3 L750.8,107.9 L752.1,106.5 L753.4,105.2 L754.5,104.1 M764.9,94.1 L765.7,93.4 L767.1,92.1 L768.5,90.9 L769.9,89.7 L771.4,88.4 L772.8,87.2 L774.3,86.0 L775.8,84.9 L777.2,83.7 L778.0,83.1 M788.6,75.5 L789.5,75.0 L791.0,73.9 L792.6,72.9 L794.2,71.9 L795.8,71.0 L797.5,70.0 L799.1,69.1 L800.7,68.1 L802.4,67.2 L803.3,66.7 M816.7,60.2 L817.6,59.8 L819.4,59.0 L821.1,58.3 L822.9,57.5 L824.6,56.8 L826.4,56.1 L828.2,55.4 L829.9,54.8 L831.7,54.1 L832.7,53.8 M845.0,49.7 L846.2,49.3 L848.0,48.8 L849.8,48.2 L851.7,47.7 L853.5,47.2 L855.3,46.7 L857.2,46.2 L859.0,45.7 L860.9,45.3 L862.1,45.0 M877.7,41.5 L879.4,41.2 L881.3,40.8 L883.2,40.4 L885.0,40.1 L886.9,39.8 L888.8,39.4 L890.7,39.1 L892.5,38.8 L894.4,38.5 L896.2,38.2 M911.2,36.1 L911.3,36.0 L913.2,35.8 L915.1,35.6 L916.9,35.3 L918.8,35.1 L920.7,34.9 L922.6,34.7 L924.5,34.4 L926.3,34.2 L928.2,34.0 L930.1,33.8 L930.2,33.8 M946.5,32.2 L946.9,32.2 L948.8,32.0 L950.7,31.8 L952.5,31.6 L954.4,31.5 L956.2,31.3 L958.1,31.1 L960.0,31.0 L961.8,30.8 L963.7,30.6 L965.5,30.5 L966.0,30.4" stroke="#0000cc" stroke-width="3.00" stroke-linejoin="round" fill="none" stroke-linecap="round"/><path transform="translate(1.20,-1.20)" d="M162.3,866.2 L163.2,866.2 L165.1,866.2 L167.0,866.1 L168.8,866.1 L170.7,866.0 L172.6,866.0 L174.5,866.0 L176.3,866.0 L178.2,865.9 L180.1,865.9 L182.0,865.9 L182.8,865.9 M200.1,865.9 L200.8,865.9 L202.7,865.9 L204.5,865.9 L206.4,866.0 L208.3,866.0 L210.2,866.0 L212.1,866.0 L214.0,866.1 L215.8,866.1 L217.7,866.1 L219.6,866.2 L220.3,866.2 M235.9,866.5 L236.7,866.6 L238.6,866.6 L240.5,866.7 L242.4,866.7 L244.3,866.8 L246.2,866.8 L248.1,866.9 L250.0,866.9 L251.9,867.0 L253.8,867.1 L255.7,867.1 L256.4,867.1 M274.3,867.7 L274.9,867.7 L276.9,867.8 L278.8,867.8 L280.7,867.9 L282.7,867.9 L284.6,867.9 L286.5,867.9 L288.4,867.9 L290.4,867.9 L292.3,867.9 L294.2,867.9 L294.8,867.9 M312.8,867.1 L313.3,867.1 L315.1,866.9 L317.0,866.8 L318.9,866.6 L320.8,866.3 L322.6,866.1 L324.5,865.9 L326.4,865.6 L328.2,865.3 L330.1,865.0 L331.9,864.6 L332.5,864.5 M346.8,861.1 L348.2,860.7 L350.0,860.1 L351.8,859.6 L353.5,859.0 L355.3,858.4 L357.1,857.7 L358.8,857.1 L360.5,856.4 L362.3,855.8 L364.0,855.1 L364.5,854.9 M378.4,848.5 L379.2,848.1 L380.9,847.2 L382.5,846.3 L384.2,845.4 L385.8,844.5 L387.4,843.6 L389.1,842.7 L390.7,841.7 L392.3,840.7 L393.9,839.8 L394.8,839.2 M407.5,830.6 L407.9,830.3 L409.4,829.2 L410.9,828.1 L412.4,827.0 L413.9,825.8 L415.4,824.7 L416.8,823.5 L418.3,822.4 L419.7,821.2 L421.2,820.0 L422.3,819.1 M433.7,808.9 L433.8,808.8 L435.2,807.5 L436.5,806.2 L437.9,804.9 L439.2,803.6 L440.6,802.3 L441.9,800.9 L443.2,799.6 L444.5,798.2 L445.8,796.9 L447.0,795.6 M457.3,784.0 L458.3,782.8 L459.5,781.3 L460.7,779.8 L461.9,778.4 L463.1,776.9 L464.3,775.4 L465.5,773.9 L466.6,772.4 L467.8,770.9 L468.7,769.7 M476.6,758.8 L476.7,758.7 L477.8,757.1 L478.9,755.5 L480.0,753.9 L481.0,752.4 L482.1,750.8 L483.1,749.2 L484.2,747.6 L485.2,746.0 L486.2,744.4 L487.3,742.8 L487.4,742.6 M496.7,726.9 L497.1,726.3 L498.0,724.6 L498.9,723.0 L499.9,721.3 L500.8,719.6 L501.7,717.9 L502.6,716.2 L503.5,714.5 L504.4,712.8 L505.3,711.1 L506.2,709.4 L506.5,708.8 M515.1,691.2 L515.4,690.5 L516.2,688.7 L517.0,687.0 L517.8,685.2 L518.6,683.5 L519.3,681.7 L520.1,680.0 L520.9,678.2 L521.6,676.5 L522.4,674.7 L523.1,672.9 L523.3,672.4 M530.5,654.2 L530.8,653.5 L531.5,651.7 L532.2,649.9 L532.8,648.1 L533.5,646.4 L534.1,644.6 L534.7,642.8 L535.4,641.0 L536.0,639.3 L536.6,637.5 L537.2,635.7 L537.5,634.9 M542.9,618.8 L543.1,617.9 L543.7,616.1 L544.3,614.3 L544.8,612.6 L545.4,610.8 L546.0,609.0 L546.5,607.2 L547.1,605.4 L547.6,603.7 L548.2,601.9 L548.8,600.1 L549.0,599.2 M554.5,581.4 L554.8,580.5 L555.4,578.7 L555.9,577.0 L556.5,575.2 L557.0,573.4 L557.6,571.6 L558.2,569.8 L558.7,568.1 L559.3,566.3 L559.9,564.5 L560.4,562.7 L560.7,561.9 M566.5,544.0 L566.8,543.2 L567.4,541.4 L568.0,539.6 L568.6,537.9 L569.2,536.1 L569.8,534.3 L570.4,532.5 L571.0,530.7 L571.6,529.0 L572.2,527.2 L572.8,525.4 L573.0,524.6 M579.1,506.6 L579.4,505.8 L580.0,504.0 L580.6,502.3 L581.2,500.5 L581.8,498.7 L582.4,496.9 L583.0,495.1 L583.6,493.3 L584.2,491.5 L584.8,489.8 L585.4,488.0 L585.6,487.2 M591.6,469.0 L591.9,468.2 L592.4,466.4 L593.0,464.6 L593.6,462.8 L594.2,461.0 L594.8,459.2 L595.3,457.4 L595.9,455.6 L596.5,453.8 L597.1,452.0 L597.6,450.2 L597.9,449.5 M603.6,431.0 L603.8,430.3 L604.4,428.4 L604.9,426.6 L605.5,424.8 L606.1,423.0 L606.6,421.2 L607.2,419.4 L607.7,417.5 L608.3,415.7 L608.8,413.9 L609.4,412.1 L609.6,411.4 M614.7,394.5 L614.9,393.8 L615.4,392.0 L616.0,390.2 L616.5,388.4 L617.1,386.5 L617.6,384.7 L618.2,382.9 L618.7,381.1 L619.3,379.2 L619.8,377.4 L620.4,375.6 L620.6,374.9 M625.7,358.1 L625.9,357.4 L626.5,355.6 L627.1,353.7 L627.6,351.9 L628.2,350.1 L628.8,348.3 L629.3,346.5 L629.9,344.7 L630.5,342.8 L631.1,341.0 L631.6,339.2 L631.9,338.5 M638.5,318.2 L638.7,317.5 L639.3,315.7 L639.9,313.9 L640.5,312.1 L641.1,310.3 L641.7,308.5 L642.3,306.7 L643.0,304.9 L643.6,303.2 L644.2,301.4 L644.8,299.6 L645.1,298.8 M651.6,280.7 L651.9,280.0 L652.5,278.2 L653.2,276.4 L653.9,274.7 L654.5,272.9 L655.2,271.2 L655.9,269.4 L656.6,267.6 L657.3,265.9 L658.0,264.1 L658.7,262.4 L659.0,261.6 M667.7,240.5 L668.0,239.8 L668.8,238.0 L669.5,236.3 L670.3,234.6 L671.1,232.9 L671.8,231.2 L672.6,229.5 L673.4,227.8 L674.2,226.0 L675.0,224.3 L675.8,222.6 L676.1,221.9 M683.0,207.8 L683.2,207.5 L684.0,205.8 L684.9,204.1 L685.7,202.5 L686.6,200.8 L687.5,199.1 L688.3,197.5 L689.2,195.8 L690.1,194.2 L691.0,192.5 L691.9,190.9 L692.1,190.5 M699.9,176.8 L700.3,176.2 L701.2,174.6 L702.2,173.0 L703.2,171.4 L704.2,169.8 L705.1,168.2 L706.1,166.6 L707.1,165.0 L708.2,163.4 L709.2,161.8 L710.2,160.3 L710.6,159.7 M720.6,145.0 L720.8,144.7 L721.9,143.1 L723.0,141.6 L724.1,140.1 L725.3,138.6 L726.4,137.0 L727.5,135.5 L728.7,134.0 L729.8,132.5 L731.0,131.0 L732.2,129.5 L732.4,129.2 M742.1,117.5 L743.1,116.3 L744.3,114.9 L745.6,113.5 L746.9,112.1 L748.2,110.7 L749.5,109.3 L750.8,107.9 L752.1,106.5 L753.4,105.2 L754.5,104.1 M764.9,94.1 L765.7,93.4 L767.1,92.1 L768.5,90.9 L769.9,89.7 L771.4,88.4 L772.8,87.2 L774.3,86.0 L775.8,84.9 L777.2,83.7 L778.0,83.1 M788.6,75.5 L789.5,75.0 L791.0,73.9 L792.6,72.9 L794.2,71.9 L795.8,71.0 L797.5,70.0 L799.1,69.1 L800.7,68.1 L802.4,67.2 L803.3,66.7 M816.7,60.2 L817.6,59.8 L819.4,59.0 L821.1,58.3 L822.9,57.5 L824.6,56.8 L826.4,56.1 L828.2,55.4 L829.9,54.8 L831.7,54.1 L832.7,53.8 M845.0,49.7 L846.2,49.3 L848.0,48.8 L849.8,48.2 L851.7,47.7 L853.5,47.2 L855.3,46.7 L857.2,46.2 L859.0,45.7 L860.9,45.3 L862.1,45.0 M877.7,41.5 L879.4,41.2 L881.3,40.8 L883.2,40.4 L885.0,40.1 L886.9,39.8 L888.8,39.4 L890.7,39.1 L892.5,38.8 L894.4,38.5 L896.2,38.2 M911.2,36.1 L911.3,36.0 L913.2,35.8 L915.1,35.6 L916.9,35.3 L918.8,35.1 L920.7,34.9 L922.6,34.7 L924.5,34.4 L926.3,34.2 L928.2,34.0 L930.1,33.8 L930.2,33.8 M946.5,32.2 L946.9,32.2 L948.8,32.0 L950.7,31.8 L952.5,31.6 L954.4,31.5 L956.2,31.3 L958.1,31.1 L960.0,31.0 L961.8,30.8 L963.7,30.6 L965.5,30.5 L966.0,30.4" stroke="#0000cc" stroke-width="3.00" stroke-linejoin="round" fill="none" stroke-linecap="round"/><path transform="translate(-1.20,1.20)" d="M162.3,866.2 L163.2,866.2 L165.1,866.2 L167.0,866.1 L168.8,866.1 L170.7,866.0 L172.6,866.0 L174.5,866.0 L176.3,866.0 L178.2,865.9 L180.1,865.9 L182.0,865.9 L182.8,865.9 M200.1,865.9 L200.8,865.9 L202.7,865.9 L204.5,865.9 L206.4,866.0 L208.3,866.0 L210.2,866.0 L212.1,866.0 L214.0,866.1 L215.8,866.1 L217.7,866.1 L219.6,866.2 L220.3,866.2 M235.9,866.5 L236.7,866.6 L238.6,866.6 L240.5,866.7 L242.4,866.7 L244.3,866.8 L246.2,866.8 L248.1,866.9 L250.0,866.9 L251.9,867.0 L253.8,867.1 L255.7,867.1 L256.4,867.1 M274.3,867.7 L274.9,867.7 L276.9,867.8 L278.8,867.8 L280.7,867.9 L282.7,867.9 L284.6,867.9 L286.5,867.9 L288.4,867.9 L290.4,867.9 L292.3,867.9 L294.2,867.9 L294.8,867.9 M312.8,867.1 L313.3,867.1 L315.1,866.9 L317.0,866.8 L318.9,866.6 L320.8,866.3 L322.6,866.1 L324.5,865.9 L326.4,865.6 L328.2,865.3 L330.1,865.0 L331.9,864.6 L332.5,864.5 M346.8,861.1 L348.2,860.7 L350.0,860.1 L351.8,859.6 L353.5,859.0 L355.3,858.4 L357.1,857.7 L358.8,857.1 L360.5,856.4 L362.3,855.8 L364.0,855.1 L364.5,854.9 M378.4,848.5 L379.2,848.1 L380.9,847.2 L382.5,846.3 L384.2,845.4 L385.8,844.5 L387.4,843.6 L389.1,842.7 L390.7,841.7 L392.3,840.7 L393.9,839.8 L394.8,839.2 M407.5,830.6 L407.9,830.3 L409.4,829.2 L410.9,828.1 L412.4,827.0 L413.9,825.8 L415.4,824.7 L416.8,823.5 L418.3,822.4 L419.7,821.2 L421.2,820.0 L422.3,819.1 M433.7,808.9 L433.8,808.8 L435.2,807.5 L436.5,806.2 L437.9,804.9 L439.2,803.6 L440.6,802.3 L441.9,800.9 L443.2,799.6 L444.5,798.2 L445.8,796.9 L447.0,795.6 M457.3,784.0 L458.3,782.8 L459.5,781.3 L460.7,779.8 L461.9,778.4 L463.1,776.9 L464.3,775.4 L465.5,773.9 L466.6,772.4 L467.8,770.9 L468.7,769.7 M476.6,758.8 L476.7,758.7 L477.8,757.1 L478.9,755.5 L480.0,753.9 L481.0,752.4 L482.1,750.8 L483.1,749.2 L484.2,747.6 L485.2,746.0 L486.2,744.4 L487.3,742.8 L487.4,742.6 M496.7,726.9 L497.1,726.3 L498.0,724.6 L498.9,723.0 L499.9,721.3 L500.8,719.6 L501.7,717.9 L502.6,716.2 L503.5,714.5 L504.4,712.8 L505.3,711.1 L506.2,709.4 L506.5,708.8 M515.1,691.2 L515.4,690.5 L516.2,688.7 L517.0,687.0 L517.8,685.2 L518.6,683.5 L519.3,681.7 L520.1,680.0 L520.9,678.2 L521.6,676.5 L522.4,674.7 L523.1,672.9 L523.3,672.4 M530.5,654.2 L530.8,653.5 L531.5,651.7 L532.2,649.9 L532.8,648.1 L533.5,646.4 L534.1,644.6 L534.7,642.8 L535.4,641.0 L536.0,639.3 L536.6,637.5 L537.2,635.7 L537.5,634.9 M542.9,618.8 L543.1,617.9 L543.7,616.1 L544.3,614.3 L544.8,612.6 L545.4,610.8 L546.0,609.0 L546.5,607.2 L547.1,605.4 L547.6,603.7 L548.2,601.9 L548.8,600.1 L549.0,599.2 M554.5,581.4 L554.8,580.5 L555.4,578.7 L555.9,577.0 L556.5,575.2 L557.0,573.4 L557.6,571.6 L558.2,569.8 L558.7,568.1 L559.3,566.3 L559.9,564.5 L560.4,562.7 L560.7,561.9 M566.5,544.0 L566.8,543.2 L567.4,541.4 L568.0,539.6 L568.6,537.9 L569.2,536.1 L569.8,534.3 L570.4,532.5 L571.0,530.7 L571.6,529.0 L572.2,527.2 L572.8,525.4 L573.0,524.6 M579.1,506.6 L579.4,505.8 L580.0,504.0 L580.6,502.3 L581.2,500.5 L581.8,498.7 L582.4,496.9 L583.0,495.1 L583.6,493.3 L584.2,491.5 L584.8,489.8 L585.4,488.0 L585.6,487.2 M591.6,469.0 L591.9,468.2 L592.4,466.4 L593.0,464.6 L593.6,462.8 L594.2,461.0 L594.8,459.2 L595.3,457.4 L595.9,455.6 L596.5,453.8 L597.1,452.0 L597.6,450.2 L597.9,449.5 M603.6,431.0 L603.8,430.3 L604.4,428.4 L604.9,426.6 L605.5,424.8 L606.1,423.0 L606.6,421.2 L607.2,419.4 L607.7,417.5 L608.3,415.7 L608.8,413.9 L609.4,412.1 L609.6,411.4 M614.7,394.5 L614.9,393.8 L615.4,392.0 L616.0,390.2 L616.5,388.4 L617.1,386.5 L617.6,384.7 L618.2,382.9 L618.7,381.1 L619.3,379.2 L619.8,377.4 L620.4,375.6 L620.6,374.9 M625.7,358.1 L625.9,357.4 L626.5,355.6 L627.1,353.7 L627.6,351.9 L628.2,350.1 L628.8,348.3 L629.3,346.5 L629.9,344.7 L630.5,342.8 L631.1,341.0 L631.6,339.2 L631.9,338.5 M638.5,318.2 L638.7,317.5 L639.3,315.7 L639.9,313.9 L640.5,312.1 L641.1,310.3 L641.7,308.5 L642.3,306.7 L643.0,304.9 L643.6,303.2 L644.2,301.4 L644.8,299.6 L645.1,298.8 M651.6,280.7 L651.9,280.0 L652.5,278.2 L653.2,276.4 L653.9,274.7 L654.5,272.9 L655.2,271.2 L655.9,269.4 L656.6,267.6 L657.3,265.9 L658.0,264.1 L658.7,262.4 L659.0,261.6 M667.7,240.5 L668.0,239.8 L668.8,238.0 L669.5,236.3 L670.3,234.6 L671.1,232.9 L671.8,231.2 L672.6,229.5 L673.4,227.8 L674.2,226.0 L675.0,224.3 L675.8,222.6 L676.1,221.9 M683.0,207.8 L683.2,207.5 L684.0,205.8 L684.9,204.1 L685.7,202.5 L686.6,200.8 L687.5,199.1 L688.3,197.5 L689.2,195.8 L690.1,194.2 L691.0,192.5 L691.9,190.9 L692.1,190.5 M699.9,176.8 L700.3,176.2 L701.2,174.6 L702.2,173.0 L703.2,171.4 L704.2,169.8 L705.1,168.2 L706.1,166.6 L707.1,165.0 L708.2,163.4 L709.2,161.8 L710.2,160.3 L710.6,159.7 M720.6,145.0 L720.8,144.7 L721.9,143.1 L723.0,141.6 L724.1,140.1 L725.3,138.6 L726.4,137.0 L727.5,135.5 L728.7,134.0 L729.8,132.5 L731.0,131.0 L732.2,129.5 L732.4,129.2 M742.1,117.5 L743.1,116.3 L744.3,114.9 L745.6,113.5 L746.9,112.1 L748.2,110.7 L749.5,109.3 L750.8,107.9 L752.1,106.5 L753.4,105.2 L754.5,104.1 M764.9,94.1 L765.7,93.4 L767.1,92.1 L768.5,90.9 L769.9,89.7 L771.4,88.4 L772.8,87.2 L774.3,86.0 L775.8,84.9 L777.2,83.7 L778.0,83.1 M788.6,75.5 L789.5,75.0 L791.0,73.9 L792.6,72.9 L794.2,71.9 L795.8,71.0 L797.5,70.0 L799.1,69.1 L800.7,68.1 L802.4,67.2 L803.3,66.7 M816.7,60.2 L817.6,59.8 L819.4,59.0 L821.1,58.3 L822.9,57.5 L824.6,56.8 L826.4,56.1 L828.2,55.4 L829.9,54.8 L831.7,54.1 L832.7,53.8 M845.0,49.7 L846.2,49.3 L848.0,48.8 L849.8,48.2 L851.7,47.7 L853.5,47.2 L855.3,46.7 L857.2,46.2 L859.0,45.7 L860.9,45.3 L862.1,45.0 M877.7,41.5 L879.4,41.2 L881.3,40.8 L883.2,40.4 L885.0,40.1 L886.9,39.8 L888.8,39.4 L890.7,39.1 L892.5,38.8 L894.4,38.5 L896.2,38.2 M911.2,36.1 L911.3,36.0 L913.2,35.8 L915.1,35.6 L916.9,35.3 L918.8,35.1 L920.7,34.9 L922.6,34.7 L924.5,34.4 L926.3,34.2 L928.2,34.0 L930.1,33.8 L930.2,33.8 M946.5,32.2 L946.9,32.2 L948.8,32.0 L950.7,31.8 L952.5,31.6 L954.4,31.5 L956.2,31.3 L958.1,31.1 L960.0,31.0 L961.8,30.8 L963.7,30.6 L965.5,30.5 L966.0,30.4" stroke="#0000cc" stroke-width="3.00" stroke-linejoin="round" fill="none" stroke-linecap="round"/><path transform="translate(1.20,1.20)" d="M162.3,866.2 L163.2,866.2 L165.1,866.2 L167.0,866.1 L168.8,866.1 L170.7,866.0 L172.6,866.0 L174.5,866.0 L176.3,866.0 L178.2,865.9 L180.1,865.9 L182.0,865.9 L182.8,865.9 M200.1,865.9 L200.8,865.9 L202.7,865.9 L204.5,865.9 L206.4,866.0 L208.3,866.0 L210.2,866.0 L212.1,866.0 L214.0,866.1 L215.8,866.1 L217.7,866.1 L219.6,866.2 L220.3,866.2 M235.9,866.5 L236.7,866.6 L238.6,866.6 L240.5,866.7 L242.4,866.7 L244.3,866.8 L246.2,866.8 L248.1,866.9 L250.0,866.9 L251.9,867.0 L253.8,867.1 L255.7,867.1 L256.4,867.1 M274.3,867.7 L274.9,867.7 L276.9,867.8 L278.8,867.8 L280.7,867.9 L282.7,867.9 L284.6,867.9 L286.5,867.9 L288.4,867.9 L290.4,867.9 L292.3,867.9 L294.2,867.9 L294.8,867.9 M312.8,867.1 L313.3,867.1 L315.1,866.9 L317.0,866.8 L318.9,866.6 L320.8,866.3 L322.6,866.1 L324.5,865.9 L326.4,865.6 L328.2,865.3 L330.1,865.0 L331.9,864.6 L332.5,864.5 M346.8,861.1 L348.2,860.7 L350.0,860.1 L351.8,859.6 L353.5,859.0 L355.3,858.4 L357.1,857.7 L358.8,857.1 L360.5,856.4 L362.3,855.8 L364.0,855.1 L364.5,854.9 M378.4,848.5 L379.2,848.1 L380.9,847.2 L382.5,846.3 L384.2,845.4 L385.8,844.5 L387.4,843.6 L389.1,842.7 L390.7,841.7 L392.3,840.7 L393.9,839.8 L394.8,839.2 M407.5,830.6 L407.9,830.3 L409.4,829.2 L410.9,828.1 L412.4,827.0 L413.9,825.8 L415.4,824.7 L416.8,823.5 L418.3,822.4 L419.7,821.2 L421.2,820.0 L422.3,819.1 M433.7,808.9 L433.8,808.8 L435.2,807.5 L436.5,806.2 L437.9,804.9 L439.2,803.6 L440.6,802.3 L441.9,800.9 L443.2,799.6 L444.5,798.2 L445.8,796.9 L447.0,795.6 M457.3,784.0 L458.3,782.8 L459.5,781.3 L460.7,779.8 L461.9,778.4 L463.1,776.9 L464.3,775.4 L465.5,773.9 L466.6,772.4 L467.8,770.9 L468.7,769.7 M476.6,758.8 L476.7,758.7 L477.8,757.1 L478.9,755.5 L480.0,753.9 L481.0,752.4 L482.1,750.8 L483.1,749.2 L484.2,747.6 L485.2,746.0 L486.2,744.4 L487.3,742.8 L487.4,742.6 M496.7,726.9 L497.1,726.3 L498.0,724.6 L498.9,723.0 L499.9,721.3 L500.8,719.6 L501.7,717.9 L502.6,716.2 L503.5,714.5 L504.4,712.8 L505.3,711.1 L506.2,709.4 L506.5,708.8 M515.1,691.2 L515.4,690.5 L516.2,688.7 L517.0,687.0 L517.8,685.2 L518.6,683.5 L519.3,681.7 L520.1,680.0 L520.9,678.2 L521.6,676.5 L522.4,674.7 L523.1,672.9 L523.3,672.4 M530.5,654.2 L530.8,653.5 L531.5,651.7 L532.2,649.9 L532.8,648.1 L533.5,646.4 L534.1,644.6 L534.7,642.8 L535.4,641.0 L536.0,639.3 L536.6,637.5 L537.2,635.7 L537.5,634.9 M542.9,618.8 L543.1,617.9 L543.7,616.1 L544.3,614.3 L544.8,612.6 L545.4,610.8 L546.0,609.0 L546.5,607.2 L547.1,605.4 L547.6,603.7 L548.2,601.9 L548.8,600.1 L549.0,599.2 M554.5,581.4 L554.8,580.5 L555.4,578.7 L555.9,577.0 L556.5,575.2 L557.0,573.4 L557.6,571.6 L558.2,569.8 L558.7,568.1 L559.3,566.3 L559.9,564.5 L560.4,562.7 L560.7,561.9 M566.5,544.0 L566.8,543.2 L567.4,541.4 L568.0,539.6 L568.6,537.9 L569.2,536.1 L569.8,534.3 L570.4,532.5 L571.0,530.7 L571.6,529.0 L572.2,527.2 L572.8,525.4 L573.0,524.6 M579.1,506.6 L579.4,505.8 L580.0,504.0 L580.6,502.3 L581.2,500.5 L581.8,498.7 L582.4,496.9 L583.0,495.1 L583.6,493.3 L584.2,491.5 L584.8,489.8 L585.4,488.0 L585.6,487.2 M591.6,469.0 L591.9,468.2 L592.4,466.4 L593.0,464.6 L593.6,462.8 L594.2,461.0 L594.8,459.2 L595.3,457.4 L595.9,455.6 L596.5,453.8 L597.1,452.0 L597.6,450.2 L597.9,449.5 M603.6,431.0 L603.8,430.3 L604.4,428.4 L604.9,426.6 L605.5,424.8 L606.1,423.0 L606.6,421.2 L607.2,419.4 L607.7,417.5 L608.3,415.7 L608.8,413.9 L609.4,412.1 L609.6,411.4 M614.7,394.5 L614.9,393.8 L615.4,392.0 L616.0,390.2 L616.5,388.4 L617.1,386.5 L617.6,384.7 L618.2,382.9 L618.7,381.1 L619.3,379.2 L619.8,377.4 L620.4,375.6 L620.6,374.9 M625.7,358.1 L625.9,357.4 L626.5,355.6 L627.1,353.7 L627.6,351.9 L628.2,350.1 L628.8,348.3 L629.3,346.5 L629.9,344.7 L630.5,342.8 L631.1,341.0 L631.6,339.2 L631.9,338.5 M638.5,318.2 L638.7,317.5 L639.3,315.7 L639.9,313.9 L640.5,312.1 L641.1,310.3 L641.7,308.5 L642.3,306.7 L643.0,304.9 L643.6,303.2 L644.2,301.4 L644.8,299.6 L645.1,298.8 M651.6,280.7 L651.9,280.0 L652.5,278.2 L653.2,276.4 L653.9,274.7 L654.5,272.9 L655.2,271.2 L655.9,269.4 L656.6,267.6 L657.3,265.9 L658.0,264.1 L658.7,262.4 L659.0,261.6 M667.7,240.5 L668.0,239.8 L668.8,238.0 L669.5,236.3 L670.3,234.6 L671.1,232.9 L671.8,231.2 L672.6,229.5 L673.4,227.8 L674.2,226.0 L675.0,224.3 L675.8,222.6 L676.1,221.9 M683.0,207.8 L683.2,207.5 L684.0,205.8 L684.9,204.1 L685.7,202.5 L686.6,200.8 L687.5,199.1 L688.3,197.5 L689.2,195.8 L690.1,194.2 L691.0,192.5 L691.9,190.9 L692.1,190.5 M699.9,176.8 L700.3,176.2 L701.2,174.6 L702.2,173.0 L703.2,171.4 L704.2,169.8 L705.1,168.2 L706.1,166.6 L707.1,165.0 L708.2,163.4 L709.2,161.8 L710.2,160.3 L710.6,159.7 M720.6,145.0 L720.8,144.7 L721.9,143.1 L723.0,141.6 L724.1,140.1 L725.3,138.6 L726.4,137.0 L727.5,135.5 L728.7,134.0 L729.8,132.5 L731.0,131.0 L732.2,129.5 L732.4,129.2 M742.1,117.5 L743.1,116.3 L744.3,114.9 L745.6,113.5 L746.9,112.1 L748.2,110.7 L749.5,109.3 L750.8,107.9 L752.1,106.5 L753.4,105.2 L754.5,104.1 M764.9,94.1 L765.7,93.4 L767.1,92.1 L768.5,90.9 L769.9,89.7 L771.4,88.4 L772.8,87.2 L774.3,86.0 L775.8,84.9 L777.2,83.7 L778.0,83.1 M788.6,75.5 L789.5,75.0 L791.0,73.9 L792.6,72.9 L794.2,71.9 L795.8,71.0 L797.5,70.0 L799.1,69.1 L800.7,68.1 L802.4,67.2 L803.3,66.7 M816.7,60.2 L817.6,59.8 L819.4,59.0 L821.1,58.3 L822.9,57.5 L824.6,56.8 L826.4,56.1 L828.2,55.4 L829.9,54.8 L831.7,54.1 L832.7,53.8 M845.0,49.7 L846.2,49.3 L848.0,48.8 L849.8,48.2 L851.7,47.7 L853.5,47.2 L855.3,46.7 L857.2,46.2 L859.0,45.7 L860.9,45.3 L862.1,45.0 M877.7,41.5 L879.4,41.2 L881.3,40.8 L883.2,40.4 L885.0,40.1 L886.9,39.8 L888.8,39.4 L890.7,39.1 L892.5,38.8 L894.4,38.5 L896.2,38.2 M911.2,36.1 L911.3,36.0 L913.2,35.8 L915.1,35.6 L916.9,35.3 L918.8,35.1 L920.7,34.9 L922.6,34.7 L924.5,34.4 L926.3,34.2 L928.2,34.0 L930.1,33.8 L930.2,33.8 M946.5,32.2 L946.9,32.2 L948.8,32.0 L950.7,31.8 L952.5,31.6 L954.4,31.5 L956.2,31.3 L958.1,31.1 L960.0,31.0 L961.8,30.8 L963.7,30.6 L965.5,30.5 L966.0,30.4" stroke="#0000cc" stroke-width="3.00" stroke-linejoin="round" fill="none" stroke-linecap="round"/></g>
<g><path transform="translate(-1.20,-1.20)" d="M163.0,866.6 L163.4,866.5 L165.3,866.5 L167.2,866.5 L169.1,866.5 L171.0,866.4 L172.9,866.4 L174.8,866.4 L176.7,866.4 L178.6,866.3 L180.5,866.3 L182.4,866.3 L182.8,866.3 M198.8,866.1 L199.5,866.1 L201.4,866.1 L203.3,866.1 L205.2,866.1 L207.1,866.1 L209.0,866.0 L210.9,866.0 L212.8,866.0 L214.7,866.0 L216.6,866.0 L218.5,866.0 L219.2,866.0 M236.7,866.0 L237.5,866.0 L239.4,866.0 L241.3,866.0 L243.2,866.0 L245.1,866.0 L247.0,866.0 L248.9,866.0 L250.8,866.0 L252.7,866.0 L254.5,866.0 L256.4,866.0 L257.2,866.0 M274.6,866.2 L275.4,866.2 L277.3,866.2 L279.2,866.3 L281.1,866.3 L283.0,866.3 L284.9,866.3 L286.8,866.4 L288.7,866.4 L290.5,866.4 L292.4,866.5 L294.3,866.5 L295.1,866.5 M312.6,866.9 L313.3,866.9 L315.2,867.0 L317.1,867.0 L319.0,867.1 L320.9,867.1 L322.8,867.2 L324.7,867.2 L326.6,867.3 L328.5,867.4 L330.4,867.4 L332.3,867.5 L333.0,867.5 M348.7,868.0 L349.4,868.0 L351.3,868.0 L353.2,868.1 L355.1,868.1 L357.0,868.2 L358.9,868.2 L360.8,868.2 L362.7,868.3 L364.6,868.3 L366.5,868.3 L368.4,868.3 L369.1,868.4 M386.7,868.3 L387.4,868.3 L389.3,868.3 L391.2,868.2 L393.1,868.2 L395.0,868.1 L396.9,868.0 L398.8,868.0 L400.7,867.9 L402.6,867.8 L404.5,867.7 L406.4,867.6 L407.1,867.5 M434.4,864.9 L435.0,864.9 L436.9,864.6 L438.8,864.3 L440.7,864.0 L442.6,863.7 L444.5,863.4 L446.4,863.1 L448.3,862.8 L450.2,862.4 L452.1,862.1 L454.0,861.7 L454.6,861.6 M515.2,843.0 L515.9,842.7 L517.6,841.9 L519.3,841.1 L521.1,840.3 L522.8,839.5 L524.5,838.7 L526.2,837.8 L527.8,837.0 L529.5,836.1 L531.2,835.3 L532.8,834.4 L533.6,834.0 M548.8,824.9 L549.0,824.8 L550.5,823.8 L552.1,822.8 L553.6,821.7 L555.1,820.6 L556.7,819.6 L558.2,818.5 L559.7,817.4 L561.2,816.2 L562.6,815.1 L564.1,814.0 L564.3,813.8 M574.4,805.4 L575.5,804.3 L576.9,803.1 L578.3,801.8 L579.7,800.5 L581.0,799.2 L582.4,797.9 L583.7,796.6 L585.0,795.3 L586.3,794.0 L587.4,792.9 M597.3,782.0 L597.8,781.5 L599.0,780.1 L600.3,778.6 L601.5,777.2 L602.7,775.7 L603.9,774.2 L605.1,772.8 L606.3,771.3 L607.4,769.8 L608.6,768.3 L609.8,766.8 L610.2,766.2 M621.6,750.3 L622.0,749.7 L623.0,748.1 L624.1,746.6 L625.2,745.0 L626.2,743.3 L627.2,741.7 L628.3,740.1 L629.3,738.5 L630.3,736.9 L631.3,735.2 L632.3,733.6 L632.7,733.0 M642.7,715.9 L643.0,715.3 L643.9,713.6 L644.8,712.0 L645.7,710.3 L646.7,708.6 L647.6,706.9 L648.5,705.2 L649.4,703.5 L650.2,701.8 L651.1,700.1 L652.0,698.4 L652.3,697.8 M660.2,681.9 L660.5,681.2 L661.3,679.5 L662.1,677.8 L662.9,676.1 L663.8,674.3 L664.6,672.6 L665.4,670.9 L666.1,669.1 L666.9,667.4 L667.7,665.6 L668.5,663.9 L668.8,663.3 M677.2,643.6 L677.5,642.9 L678.2,641.1 L678.9,639.4 L679.6,637.6 L680.3,635.8 L681.0,634.0 L681.7,632.3 L682.4,630.5 L683.1,628.7 L683.8,627.0 L684.5,625.2 L684.8,624.5 M690.9,608.1 L691.1,607.4 L691.8,605.6 L692.4,603.8 L693.1,602.0 L693.7,600.2 L694.3,598.4 L695.0,596.6 L695.6,594.8 L696.2,593.0 L696.8,591.2 L697.4,589.4 L697.7,588.7 M703.8,570.3 L704.1,569.6 L704.6,567.8 L705.2,565.9 L705.8,564.1 L706.4,562.3 L707.0,560.5 L707.5,558.7 L708.1,556.9 L708.7,555.1 L709.2,553.2 L709.8,551.4 L710.0,550.7 M715.7,532.1 L715.9,531.4 L716.4,529.6 L717.0,527.8 L717.5,526.0 L718.0,524.1 L718.6,522.3 L719.1,520.5 L719.6,518.7 L720.2,516.8 L720.7,515.0 L721.2,513.2 L721.4,512.5 M726.2,495.6 L726.4,494.9 L727.0,493.1 L727.5,491.3 L728.0,489.4 L728.5,487.6 L729.0,485.8 L729.5,484.0 L730.1,482.1 L730.6,480.3 L731.1,478.5 L731.6,476.6 L731.8,475.9 M736.5,459.1 L736.7,458.4 L737.2,456.6 L737.7,454.7 L738.2,452.9 L738.7,451.1 L739.2,449.3 L739.7,447.4 L740.2,445.6 L740.7,443.8 L741.3,442.0 L741.8,440.1 L742.0,439.4 M747.6,419.0 L747.9,418.2 L748.4,416.4 L748.9,414.6 L749.4,412.8 L749.9,411.0 L750.4,409.1 L750.9,407.3 L751.4,405.5 L751.9,403.7 L752.5,401.9 L753.0,400.0 L753.2,399.3 M757.9,382.6 L758.1,381.8 L758.7,380.0 L759.2,378.2 L759.7,376.4 L760.2,374.6 L760.8,372.7 L761.3,370.9 L761.8,369.1 L762.3,367.3 L762.9,365.5 L763.4,363.7 L763.6,362.9 M768.5,346.3 L768.8,345.5 L769.3,343.7 L769.9,341.9 L770.4,340.1 L770.9,338.3 L771.5,336.5 L772.0,334.6 L772.6,332.8 L773.2,331.0 L773.7,329.2 L774.3,327.4 L774.5,326.7 M780.3,308.2 L780.5,307.5 L781.1,305.7 L781.6,303.9 L782.2,302.1 L782.8,300.3 L783.4,298.5 L784.0,296.7 L784.6,294.9 L785.2,293.1 L785.7,291.3 L786.3,289.5 L786.6,288.7 M792.8,270.4 L793.0,269.7 L793.6,267.9 L794.3,266.1 L794.9,264.3 L795.5,262.5 L796.1,260.7 L796.8,258.9 L797.4,257.1 L798.1,255.3 L798.7,253.5 L799.3,251.7 L799.6,251.0 M806.3,232.6 L806.6,232.0 L807.3,230.2 L807.9,228.4 L808.6,226.6 L809.3,224.8 L810.0,223.1 L810.7,221.3 L811.4,219.5 L812.1,217.7 L812.8,215.9 L813.5,214.1 L813.7,213.5 M821.2,195.1 L821.4,194.5 L822.2,192.7 L822.9,191.0 L823.7,189.2 L824.4,187.4 L825.2,185.6 L825.9,183.9 L826.7,182.1 L827.5,180.3 L828.2,178.5 L829.0,176.8 L829.2,176.2 M836.0,161.4 L836.2,160.9 L837.0,159.2 L837.9,157.5 L838.7,155.7 L839.5,154.0 L840.4,152.3 L841.3,150.6 L842.1,148.8 L843.0,147.1 L843.9,145.4 L844.8,143.7 L845.0,143.3" stroke="#0000cc" stroke-width="3.00" stroke-linejoin="round" fill="none" stroke-linecap="round"/><path transform="translate(1.20,-1.20)" d="M163.0,866.6 L163.4,866.5 L165.3,866.5 L167.2,866.5 L169.1,866.5 L171.0,866.4 L172.9,866.4 L174.8,866.4 L176.7,866.4 L178.6,866.3 L180.5,866.3 L182.4,866.3 L182.8,866.3 M198.8,866.1 L199.5,866.1 L201.4,866.1 L203.3,866.1 L205.2,866.1 L207.1,866.1 L209.0,866.0 L210.9,866.0 L212.8,866.0 L214.7,866.0 L216.6,866.0 L218.5,866.0 L219.2,866.0 M236.7,866.0 L237.5,866.0 L239.4,866.0 L241.3,866.0 L243.2,866.0 L245.1,866.0 L247.0,866.0 L248.9,866.0 L250.8,866.0 L252.7,866.0 L254.5,866.0 L256.4,866.0 L257.2,866.0 M274.6,866.2 L275.4,866.2 L277.3,866.2 L279.2,866.3 L281.1,866.3 L283.0,866.3 L284.9,866.3 L286.8,866.4 L288.7,866.4 L290.5,866.4 L292.4,866.5 L294.3,866.5 L295.1,866.5 M312.6,866.9 L313.3,866.9 L315.2,867.0 L317.1,867.0 L319.0,867.1 L320.9,867.1 L322.8,867.2 L324.7,867.2 L326.6,867.3 L328.5,867.4 L330.4,867.4 L332.3,867.5 L333.0,867.5 M348.7,868.0 L349.4,868.0 L351.3,868.0 L353.2,868.1 L355.1,868.1 L357.0,868.2 L358.9,868.2 L360.8,868.2 L362.7,868.3 L364.6,868.3 L366.5,868.3 L368.4,868.3 L369.1,868.4 M386.7,868.3 L387.4,868.3 L389.3,868.3 L391.2,868.2 L393.1,868.2 L395.0,868.1 L396.9,868.0 L398.8,868.0 L400.7,867.9 L402.6,867.8 L404.5,867.7 L406.4,867.6 L407.1,867.5 M434.4,864.9 L435.0,864.9 L436.9,864.6 L438.8,864.3 L440.7,864.0 L442.6,863.7 L444.5,863.4 L446.4,863.1 L448.3,862.8 L450.2,862.4 L452.1,862.1 L454.0,861.7 L454.6,861.6 M515.2,843.0 L515.9,842.7 L517.6,841.9 L519.3,841.1 L521.1,840.3 L522.8,839.5 L524.5,838.7 L526.2,837.8 L527.8,837.0 L529.5,836.1 L531.2,835.3 L532.8,834.4 L533.6,834.0 M548.8,824.9 L549.0,824.8 L550.5,823.8 L552.1,822.8 L553.6,821.7 L555.1,820.6 L556.7,819.6 L558.2,818.5 L559.7,817.4 L561.2,816.2 L562.6,815.1 L564.1,814.0 L564.3,813.8 M574.4,805.4 L575.5,804.3 L576.9,803.1 L578.3,801.8 L579.7,800.5 L581.0,799.2 L582.4,797.9 L583.7,796.6 L585.0,795.3 L586.3,794.0 L587.4,792.9 M597.3,782.0 L597.8,781.5 L599.0,780.1 L600.3,778.6 L601.5,777.2 L602.7,775.7 L603.9,774.2 L605.1,772.8 L606.3,771.3 L607.4,769.8 L608.6,768.3 L609.8,766.8 L610.2,766.2 M621.6,750.3 L622.0,749.7 L623.0,748.1 L624.1,746.6 L625.2,745.0 L626.2,743.3 L627.2,741.7 L628.3,740.1 L629.3,738.5 L630.3,736.9 L631.3,735.2 L632.3,733.6 L632.7,733.0 M642.7,715.9 L643.0,715.3 L643.9,713.6 L644.8,712.0 L645.7,710.3 L646.7,708.6 L647.6,706.9 L648.5,705.2 L649.4,703.5 L650.2,701.8 L651.1,700.1 L652.0,698.4 L652.3,697.8 M660.2,681.9 L660.5,681.2 L661.3,679.5 L662.1,677.8 L662.9,676.1 L663.8,674.3 L664.6,672.6 L665.4,670.9 L666.1,669.1 L666.9,667.4 L667.7,665.6 L668.5,663.9 L668.8,663.3 M677.2,643.6 L677.5,642.9 L678.2,641.1 L678.9,639.4 L679.6,637.6 L680.3,635.8 L681.0,634.0 L681.7,632.3 L682.4,630.5 L683.1,628.7 L683.8,627.0 L684.5,625.2 L684.8,624.5 M690.9,608.1 L691.1,607.4 L691.8,605.6 L692.4,603.8 L693.1,602.0 L693.7,600.2 L694.3,598.4 L695.0,596.6 L695.6,594.8 L696.2,593.0 L696.8,591.2 L697.4,589.4 L697.7,588.7 M703.8,570.3 L704.1,569.6 L704.6,567.8 L705.2,565.9 L705.8,564.1 L706.4,562.3 L707.0,560.5 L707.5,558.7 L708.1,556.9 L708.7,555.1 L709.2,553.2 L709.8,551.4 L710.0,550.7 M715.7,532.1 L715.9,531.4 L716.4,529.6 L717.0,527.8 L717.5,526.0 L718.0,524.1 L718.6,522.3 L719.1,520.5 L719.6,518.7 L720.2,516.8 L720.7,515.0 L721.2,513.2 L721.4,512.5 M726.2,495.6 L726.4,494.9 L727.0,493.1 L727.5,491.3 L728.0,489.4 L728.5,487.6 L729.0,485.8 L729.5,484.0 L730.1,482.1 L730.6,480.3 L731.1,478.5 L731.6,476.6 L731.8,475.9 M736.5,459.1 L736.7,458.4 L737.2,456.6 L737.7,454.7 L738.2,452.9 L738.7,451.1 L739.2,449.3 L739.7,447.4 L740.2,445.6 L740.7,443.8 L741.3,442.0 L741.8,440.1 L742.0,439.4 M747.6,419.0 L747.9,418.2 L748.4,416.4 L748.9,414.6 L749.4,412.8 L749.9,411.0 L750.4,409.1 L750.9,407.3 L751.4,405.5 L751.9,403.7 L752.5,401.9 L753.0,400.0 L753.2,399.3 M757.9,382.6 L758.1,381.8 L758.7,380.0 L759.2,378.2 L759.7,376.4 L760.2,374.6 L760.8,372.7 L761.3,370.9 L761.8,369.1 L762.3,367.3 L762.9,365.5 L763.4,363.7 L763.6,362.9 M768.5,346.3 L768.8,345.5 L769.3,343.7 L769.9,341.9 L770.4,340.1 L770.9,338.3 L771.5,336.5 L772.0,334.6 L772.6,332.8 L773.2,331.0 L773.7,329.2 L774.3,327.4 L774.5,326.7 M780.3,308.2 L780.5,307.5 L781.1,305.7 L781.6,303.9 L782.2,302.1 L782.8,300.3 L783.4,298.5 L784.0,296.7 L784.6,294.9 L785.2,293.1 L785.7,291.3 L786.3,289.5 L786.6,288.7 M792.8,270.4 L793.0,269.7 L793.6,267.9 L794.3,266.1 L794.9,264.3 L795.5,262.5 L796.1,260.7 L796.8,258.9 L797.4,257.1 L798.1,255.3 L798.7,253.5 L799.3,251.7 L799.6,251.0 M806.3,232.6 L806.6,232.0 L807.3,230.2 L807.9,228.4 L808.6,226.6 L809.3,224.8 L810.0,223.1 L810.7,221.3 L811.4,219.5 L812.1,217.7 L812.8,215.9 L813.5,214.1 L813.7,213.5 M821.2,195.1 L821.4,194.5 L822.2,192.7 L822.9,191.0 L823.7,189.2 L824.4,187.4 L825.2,185.6 L825.9,183.9 L826.7,182.1 L827.5,180.3 L828.2,178.5 L829.0,176.8 L829.2,176.2 M836.0,161.4 L836.2,160.9 L837.0,159.2 L837.9,157.5 L838.7,155.7 L839.5,154.0 L840.4,152.3 L841.3,150.6 L842.1,148.8 L843.0,147.1 L843.9,145.4 L844.8,143.7 L845.0,143.3" stroke="#0000cc" stroke-width="3.00" stroke-linejoin="round" fill="none" stroke-linecap="round"/><path transform="translate(-1.20,1.20)" d="M163.0,866.6 L163.4,866.5 L165.3,866.5 L167.2,866.5 L169.1,866.5 L171.0,866.4 L172.9,866.4 L174.8,866.4 L176.7,866.4 L178.6,866.3 L180.5,866.3 L182.4,866.3 L182.8,866.3 M198.8,866.1 L199.5,866.1 L201.4,866.1 L203.3,866.1 L205.2,866.1 L207.1,866.1 L209.0,866.0 L210.9,866.0 L212.8,866.0 L214.7,866.0 L216.6,866.0 L218.5,866.0 L219.2,866.0 M236.7,866.0 L237.5,866.0 L239.4,866.0 L241.3,866.0 L243.2,866.0 L245.1,866.0 L247.0,866.0 L248.9,866.0 L250.8,866.0 L252.7,866.0 L254.5,866.0 L256.4,866.0 L257.2,866.0 M274.6,866.2 L275.4,866.2 L277.3,866.2 L279.2,866.3 L281.1,866.3 L283.0,866.3 L284.9,866.3 L286.8,866.4 L288.7,866.4 L290.5,866.4 L292.4,866.5 L294.3,866.5 L295.1,866.5 M312.6,866.9 L313.3,866.9 L315.2,867.0 L317.1,867.0 L319.0,867.1 L320.9,867.1 L322.8,867.2 L324.7,867.2 L326.6,867.3 L328.5,867.4 L330.4,867.4 L332.3,867.5 L333.0,867.5 M348.7,868.0 L349.4,868.0 L351.3,868.0 L353.2,868.1 L355.1,868.1 L357.0,868.2 L358.9,868.2 L360.8,868.2 L362.7,868.3 L364.6,868.3 L366.5,868.3 L368.4,868.3 L369.1,868.4 M386.7,868.3 L387.4,868.3 L389.3,868.3 L391.2,868.2 L393.1,868.2 L395.0,868.1 L396.9,868.0 L398.8,868.0 L400.7,867.9 L402.6,867.8 L404.5,867.7 L406.4,867.6 L407.1,867.5 M434.4,864.9 L435.0,864.9 L436.9,864.6 L438.8,864.3 L440.7,864.0 L442.6,863.7 L444.5,863.4 L446.4,863.1 L448.3,862.8 L450.2,862.4 L452.1,862.1 L454.0,861.7 L454.6,861.6 M515.2,843.0 L515.9,842.7 L517.6,841.9 L519.3,841.1 L521.1,840.3 L522.8,839.5 L524.5,838.7 L526.2,837.8 L527.8,837.0 L529.5,836.1 L531.2,835.3 L532.8,834.4 L533.6,834.0 M548.8,824.9 L549.0,824.8 L550.5,823.8 L552.1,822.8 L553.6,821.7 L555.1,820.6 L556.7,819.6 L558.2,818.5 L559.7,817.4 L561.2,816.2 L562.6,815.1 L564.1,814.0 L564.3,813.8 M574.4,805.4 L575.5,804.3 L576.9,803.1 L578.3,801.8 L579.7,800.5 L581.0,799.2 L582.4,797.9 L583.7,796.6 L585.0,795.3 L586.3,794.0 L587.4,792.9 M597.3,782.0 L597.8,781.5 L599.0,780.1 L600.3,778.6 L601.5,777.2 L602.7,775.7 L603.9,774.2 L605.1,772.8 L606.3,771.3 L607.4,769.8 L608.6,768.3 L609.8,766.8 L610.2,766.2 M621.6,750.3 L622.0,749.7 L623.0,748.1 L624.1,746.6 L625.2,745.0 L626.2,743.3 L627.2,741.7 L628.3,740.1 L629.3,738.5 L630.3,736.9 L631.3,735.2 L632.3,733.6 L632.7,733.0 M642.7,715.9 L643.0,715.3 L643.9,713.6 L644.8,712.0 L645.7,710.3 L646.7,708.6 L647.6,706.9 L648.5,705.2 L649.4,703.5 L650.2,701.8 L651.1,700.1 L652.0,698.4 L652.3,697.8 M660.2,681.9 L660.5,681.2 L661.3,679.5 L662.1,677.8 L662.9,676.1 L663.8,674.3 L664.6,672.6 L665.4,670.9 L666.1,669.1 L666.9,667.4 L667.7,665.6 L668.5,663.9 L668.8,663.3 M677.2,643.6 L677.5,642.9 L678.2,641.1 L678.9,639.4 L679.6,637.6 L680.3,635.8 L681.0,634.0 L681.7,632.3 L682.4,630.5 L683.1,628.7 L683.8,627.0 L684.5,625.2 L684.8,624.5 M690.9,608.1 L691.1,607.4 L691.8,605.6 L692.4,603.8 L693.1,602.0 L693.7,600.2 L694.3,598.4 L695.0,596.6 L695.6,594.8 L696.2,593.0 L696.8,591.2 L697.4,589.4 L697.7,588.7 M703.8,570.3 L704.1,569.6 L704.6,567.8 L705.2,565.9 L705.8,564.1 L706.4,562.3 L707.0,560.5 L707.5,558.7 L708.1,556.9 L708.7,555.1 L709.2,553.2 L709.8,551.4 L710.0,550.7 M715.7,532.1 L715.9,531.4 L716.4,529.6 L717.0,527.8 L717.5,526.0 L718.0,524.1 L718.6,522.3 L719.1,520.5 L719.6,518.7 L720.2,516.8 L720.7,515.0 L721.2,513.2 L721.4,512.5 M726.2,495.6 L726.4,494.9 L727.0,493.1 L727.5,491.3 L728.0,489.4 L728.5,487.6 L729.0,485.8 L729.5,484.0 L730.1,482.1 L730.6,480.3 L731.1,478.5 L731.6,476.6 L731.8,475.9 M736.5,459.1 L736.7,458.4 L737.2,456.6 L737.7,454.7 L738.2,452.9 L738.7,451.1 L739.2,449.3 L739.7,447.4 L740.2,445.6 L740.7,443.8 L741.3,442.0 L741.8,440.1 L742.0,439.4 M747.6,419.0 L747.9,418.2 L748.4,416.4 L748.9,414.6 L749.4,412.8 L749.9,411.0 L750.4,409.1 L750.9,407.3 L751.4,405.5 L751.9,403.7 L752.5,401.9 L753.0,400.0 L753.2,399.3 M757.9,382.6 L758.1,381.8 L758.7,380.0 L759.2,378.2 L759.7,376.4 L760.2,374.6 L760.8,372.7 L761.3,370.9 L761.8,369.1 L762.3,367.3 L762.9,365.5 L763.4,363.7 L763.6,362.9 M768.5,346.3 L768.8,345.5 L769.3,343.7 L769.9,341.9 L770.4,340.1 L770.9,338.3 L771.5,336.5 L772.0,334.6 L772.6,332.8 L773.2,331.0 L773.7,329.2 L774.3,327.4 L774.5,326.7 M780.3,308.2 L780.5,307.5 L781.1,305.7 L781.6,303.9 L782.2,302.1 L782.8,300.3 L783.4,298.5 L784.0,296.7 L784.6,294.9 L785.2,293.1 L785.7,291.3 L786.3,289.5 L786.6,288.7 M792.8,270.4 L793.0,269.7 L793.6,267.9 L794.3,266.1 L794.9,264.3 L795.5,262.5 L796.1,260.7 L796.8,258.9 L797.4,257.1 L798.1,255.3 L798.7,253.5 L799.3,251.7 L799.6,251.0 M806.3,232.6 L806.6,232.0 L807.3,230.2 L807.9,228.4 L808.6,226.6 L809.3,224.8 L810.0,223.1 L810.7,221.3 L811.4,219.5 L812.1,217.7 L812.8,215.9 L813.5,214.1 L813.7,213.5 M821.2,195.1 L821.4,194.5 L822.2,192.7 L822.9,191.0 L823.7,189.2 L824.4,187.4 L825.2,185.6 L825.9,183.9 L826.7,182.1 L827.5,180.3 L828.2,178.5 L829.0,176.8 L829.2,176.2 M836.0,161.4 L836.2,160.9 L837.0,159.2 L837.9,157.5 L838.7,155.7 L839.5,154.0 L840.4,152.3 L841.3,150.6 L842.1,148.8 L843.0,147.1 L843.9,145.4 L844.8,143.7 L845.0,143.3" stroke="#0000cc" stroke-width="3.00" stroke-linejoin="round" fill="none" stroke-linecap="round"/><path transform="translate(1.20,1.20)" d="M163.0,866.6 L163.4,866.5 L165.3,866.5 L167.2,866.5 L169.1,866.5 L171.0,866.4 L172.9,866.4 L174.8,866.4 L176.7,866.4 L178.6,866.3 L180.5,866.3 L182.4,866.3 L182.8,866.3 M198.8,866.1 L199.5,866.1 L201.4,866.1 L203.3,866.1 L205.2,866.1 L207.1,866.1 L209.0,866.0 L210.9,866.0 L212.8,866.0 L214.7,866.0 L216.6,866.0 L218.5,866.0 L219.2,866.0 M236.7,866.0 L237.5,866.0 L239.4,866.0 L241.3,866.0 L243.2,866.0 L245.1,866.0 L247.0,866.0 L248.9,866.0 L250.8,866.0 L252.7,866.0 L254.5,866.0 L256.4,866.0 L257.2,866.0 M274.6,866.2 L275.4,866.2 L277.3,866.2 L279.2,866.3 L281.1,866.3 L283.0,866.3 L284.9,866.3 L286.8,866.4 L288.7,866.4 L290.5,866.4 L292.4,866.5 L294.3,866.5 L295.1,866.5 M312.6,866.9 L313.3,866.9 L315.2,867.0 L317.1,867.0 L319.0,867.1 L320.9,867.1 L322.8,867.2 L324.7,867.2 L326.6,867.3 L328.5,867.4 L330.4,867.4 L332.3,867.5 L333.0,867.5 M348.7,868.0 L349.4,868.0 L351.3,868.0 L353.2,868.1 L355.1,868.1 L357.0,868.2 L358.9,868.2 L360.8,868.2 L362.7,868.3 L364.6,868.3 L366.5,868.3 L368.4,868.3 L369.1,868.4 M386.7,868.3 L387.4,868.3 L389.3,868.3 L391.2,868.2 L393.1,868.2 L395.0,868.1 L396.9,868.0 L398.8,868.0 L400.7,867.9 L402.6,867.8 L404.5,867.7 L406.4,867.6 L407.1,867.5 M434.4,864.9 L435.0,864.9 L436.9,864.6 L438.8,864.3 L440.7,864.0 L442.6,863.7 L444.5,863.4 L446.4,863.1 L448.3,862.8 L450.2,862.4 L452.1,862.1 L454.0,861.7 L454.6,861.6 M515.2,843.0 L515.9,842.7 L517.6,841.9 L519.3,841.1 L521.1,840.3 L522.8,839.5 L524.5,838.7 L526.2,837.8 L527.8,837.0 L529.5,836.1 L531.2,835.3 L532.8,834.4 L533.6,834.0 M548.8,824.9 L549.0,824.8 L550.5,823.8 L552.1,822.8 L553.6,821.7 L555.1,820.6 L556.7,819.6 L558.2,818.5 L559.7,817.4 L561.2,816.2 L562.6,815.1 L564.1,814.0 L564.3,813.8 M574.4,805.4 L575.5,804.3 L576.9,803.1 L578.3,801.8 L579.7,800.5 L581.0,799.2 L582.4,797.9 L583.7,796.6 L585.0,795.3 L586.3,794.0 L587.4,792.9 M597.3,782.0 L597.8,781.5 L599.0,780.1 L600.3,778.6 L601.5,777.2 L602.7,775.7 L603.9,774.2 L605.1,772.8 L606.3,771.3 L607.4,769.8 L608.6,768.3 L609.8,766.8 L610.2,766.2 M621.6,750.3 L622.0,749.7 L623.0,748.1 L624.1,746.6 L625.2,745.0 L626.2,743.3 L627.2,741.7 L628.3,740.1 L629.3,738.5 L630.3,736.9 L631.3,735.2 L632.3,733.6 L632.7,733.0 M642.7,715.9 L643.0,715.3 L643.9,713.6 L644.8,712.0 L645.7,710.3 L646.7,708.6 L647.6,706.9 L648.5,705.2 L649.4,703.5 L650.2,701.8 L651.1,700.1 L652.0,698.4 L652.3,697.8 M660.2,681.9 L660.5,681.2 L661.3,679.5 L662.1,677.8 L662.9,676.1 L663.8,674.3 L664.6,672.6 L665.4,670.9 L666.1,669.1 L666.9,667.4 L667.7,665.6 L668.5,663.9 L668.8,663.3 M677.2,643.6 L677.5,642.9 L678.2,641.1 L678.9,639.4 L679.6,637.6 L680.3,635.8 L681.0,634.0 L681.7,632.3 L682.4,630.5 L683.1,628.7 L683.8,627.0 L684.5,625.2 L684.8,624.5 M690.9,608.1 L691.1,607.4 L691.8,605.6 L692.4,603.8 L693.1,602.0 L693.7,600.2 L694.3,598.4 L695.0,596.6 L695.6,594.8 L696.2,593.0 L696.8,591.2 L697.4,589.4 L697.7,588.7 M703.8,570.3 L704.1,569.6 L704.6,567.8 L705.2,565.9 L705.8,564.1 L706.4,562.3 L707.0,560.5 L707.5,558.7 L708.1,556.9 L708.7,555.1 L709.2,553.2 L709.8,551.4 L710.0,550.7 M715.7,532.1 L715.9,531.4 L716.4,529.6 L717.0,527.8 L717.5,526.0 L718.0,524.1 L718.6,522.3 L719.1,520.5 L719.6,518.7 L720.2,516.8 L720.7,515.0 L721.2,513.2 L721.4,512.5 M726.2,495.6 L726.4,494.9 L727.0,493.1 L727.5,491.3 L728.0,489.4 L728.5,487.6 L729.0,485.8 L729.5,484.0 L730.1,482.1 L730.6,480.3 L731.1,478.5 L731.6,476.6 L731.8,475.9 M736.5,459.1 L736.7,458.4 L737.2,456.6 L737.7,454.7 L738.2,452.9 L738.7,451.1 L739.2,449.3 L739.7,447.4 L740.2,445.6 L740.7,443.8 L741.3,442.0 L741.8,440.1 L742.0,439.4 M747.6,419.0 L747.9,418.2 L748.4,416.4 L748.9,414.6 L749.4,412.8 L749.9,411.0 L750.4,409.1 L750.9,407.3 L751.4,405.5 L751.9,403.7 L752.5,401.9 L753.0,400.0 L753.2,399.3 M757.9,382.6 L758.1,381.8 L758.7,380.0 L759.2,378.2 L759.7,376.4 L760.2,374.6 L760.8,372.7 L761.3,370.9 L761.8,369.1 L762.3,367.3 L762.9,365.5 L763.4,363.7 L763.6,362.9 M768.5,346.3 L768.8,345.5 L769.3,343.7 L769.9,341.9 L770.4,340.1 L770.9,338.3 L771.5,336.5 L772.0,334.6 L772.6,332.8 L773.2,331.0 L773.7,329.2 L774.3,327.4 L774.5,326.7 M780.3,308.2 L780.5,307.5 L781.1,305.7 L781.6,303.9 L782.2,302.1 L782.8,300.3 L783.4,298.5 L784.0,296.7 L784.6,294.9 L785.2,293.1 L785.7,291.3 L786.3,289.5 L786.6,288.7 M792.8,270.4 L793.0,269.7 L793.6,267.9 L794.3,266.1 L794.9,264.3 L795.5,262.5 L796.1,260.7 L796.8,258.9 L797.4,257.1 L798.1,255.3 L798.7,253.5 L799.3,251.7 L799.6,251.0 M806.3,232.6 L806.6,232.0 L807.3,230.2 L807.9,228.4 L808.6,226.6 L809.3,224.8 L810.0,223.1 L810.7,221.3 L811.4,219.5 L812.1,217.7 L812.8,215.9 L813.5,214.1 L813.7,213.5 M821.2,195.1 L821.4,194.5 L822.2,192.7 L822.9,191.0 L823.7,189.2 L824.4,187.4 L825.2,185.6 L825.9,183.9 L826.7,182.1 L827.5,180.3 L828.2,178.5 L829.0,176.8 L829.2,176.2 M836.0,161.4 L836.2,160.9 L837.0,159.2 L837.9,157.5 L838.7,155.7 L839.5,154.0 L840.4,152.3 L841.3,150.6 L842.1,148.8 L843.0,147.1 L843.9,145.4 L844.8,143.7 L845.0,143.3" stroke="#0000cc" stroke-width="3.00" stroke-linejoin="round" fill="none" stroke-linecap="round"/></g>
<path d="M139.5,863.2h7.5v5.6h-7.5zM158.2,862.8h7.5v5.6h-7.5zM177.3,862.9h7.5v5.6h-7.5zM196.7,863.3h7.5v5.6h-7.5zM214.6,864.0h7.5v5.6h-7.5zM234.5,864.7h7.5v5.6h-7.5zM252.8,865.5h7.5v5.6h-7.5zM271.1,866.1h7.5v5.6h-7.5zM289.5,866.5h7.5v5.6h-7.5zM307.9,866.6h7.5v5.6h-7.5zM328.0,866.2h7.5v5.6h-7.5zM346.3,865.4h7.5v5.6h-7.5zM364.3,863.9h7.5v5.6h-7.5zM382.2,861.7h7.5v5.6h-7.5zM401.0,858.6h7.4v5.6h-7.4zM419.5,854.4h7.4v5.6h-7.4zM437.7,849.1h7.4v5.6h-7.4zM455.5,842.4h7.3v5.6h-7.3zM472.8,834.6h7.2v5.6h-7.2zM489.5,825.5h7.1v5.6h-7.1zM503.1,817.0h7.0v5.6h-7.0zM517.6,806.6h7.0v5.6h-7.0zM530.0,796.6h6.9v5.6h-6.9zM542.0,785.9h6.8v5.6h-6.8zM553.3,774.6h6.7v5.6h-6.7zM564.1,762.8h6.7v5.6h-6.7zM574.4,750.4h6.6v5.6h-6.6zM585.4,736.2h6.5v5.6h-6.5zM595.8,721.5h6.5v5.6h-6.5zM607.7,703.2h6.4v5.6h-6.4zM617.1,687.6h6.4v5.6h-6.4zM625.2,673.3h6.4v5.6h-6.4zM634.8,655.6h6.3v5.6h-6.3zM643.2,639.4h6.3v5.6h-6.3zM650.5,624.7h6.3v5.6h-6.3zM658.5,608.3h6.3v5.6h-6.3zM667.0,590.3h6.3v5.6h-6.3zM675.3,572.2h6.3v5.6h-6.3zM682.8,555.8h6.3v5.6h-6.3zM690.9,537.7h6.2v5.6h-6.2zM698.8,519.7h6.2v5.6h-6.2zM706.7,501.6h6.2v5.6h-6.2zM714.5,483.6h6.2v5.6h-6.2zM722.4,465.6h6.2v5.6h-6.2zM729.5,449.2h6.2v5.6h-6.2zM738.1,429.6h6.2v5.6h-6.2zM746.1,411.7h6.3v5.6h-6.3zM754.2,393.8h6.3v5.6h-6.3zM761.7,377.6h6.3v5.6h-6.3zM770.9,358.3h6.3v5.6h-6.3zM779.5,340.6h6.3v5.6h-6.3zM789.1,321.4h6.3v5.6h-6.3zM798.3,303.9h6.3v5.6h-6.3zM806.8,288.1h6.3v5.6h-6.3zM816.4,271.1h6.4v5.6h-6.4zM826.2,254.3h6.4v5.6h-6.4zM836.4,237.8h6.4v5.6h-6.4zM847.1,221.5h6.5v5.6h-6.5zM858.4,205.2h6.5v5.6h-6.5zM868.1,192.2h6.6v5.6h-6.6zM878.1,179.4h6.6v5.6h-6.6zM888.5,167.1h6.6v5.6h-6.6zM899.3,155.1h6.7v5.6h-6.7zM914.3,139.8h6.8v5.6h-6.8zM924.8,130.1h6.8v5.6h-6.8zM937.0,119.6h6.9v5.6h-6.9zM952.6,107.5h7.0v5.6h-7.0zM964.4,99.3h7.0v5.6h-7.0zM979.8,89.7h7.1v5.6h-7.1z" fill="#c00000"/>
<path d="M140.5,864.7h7.5v5.6h-7.5zM158.8,863.6h7.5v5.6h-7.5zM177.1,862.9h7.5v5.6h-7.5zM197.1,862.5h7.5v5.6h-7.5zM215.4,862.3h7.5v5.6h-7.5zM233.7,862.4h7.5v5.6h-7.5zM252.0,862.6h7.5v5.6h-7.5zM270.4,863.0h7.5v5.6h-7.5zM290.3,863.5h7.5v5.6h-7.5zM308.7,863.9h7.5v5.6h-7.5zM327.0,864.4h7.5v5.6h-7.5zM345.3,864.8h7.5v5.6h-7.5zM365.3,865.1h7.5v5.6h-7.5zM383.7,865.2h7.5v5.6h-7.5zM402.1,865.1h7.5v5.6h-7.5zM420.5,864.7h7.5v5.6h-7.5zM438.9,864.1h7.5v5.6h-7.5zM457.1,863.1h7.5v5.6h-7.5zM475.2,861.8h7.5v5.6h-7.5zM493.3,860.0h7.5v5.6h-7.5zM511.4,857.8h7.5v5.6h-7.5zM529.4,854.9h7.5v5.6h-7.5zM544.2,852.0h7.4v5.6h-7.4zM560.6,848.1h7.4v5.6h-7.4zM576.6,843.5h7.4v5.6h-7.4zM592.4,838.1h7.3v5.6h-7.3zM606.3,832.5h7.3v5.6h-7.3zM622.8,824.8h7.2v5.6h-7.2zM637.4,816.9h7.1v5.6h-7.1zM652.8,807.2h7.0v5.6h-7.0zM667.4,796.4h6.9v5.6h-6.9zM680.1,785.8h6.8v5.6h-6.8zM691.0,775.6h6.8v5.6h-6.8zM701.4,764.8h6.7v5.6h-6.7zM712.5,752.3h6.6v5.6h-6.6zM724.1,738.0h6.6v5.6h-6.6zM735.2,723.3h6.5v5.6h-6.5zM745.7,708.3h6.5v5.6h-6.5zM755.8,693.0h6.4v5.6h-6.4zM766.4,676.0h6.4v5.6h-6.4zM776.4,658.7h6.4v5.6h-6.4zM786.8,639.8h6.3v5.6h-6.3zM796.1,622.0h6.3v5.6h-6.3zM805.7,602.6h6.3v5.6h-6.3zM814.2,584.5h6.3v5.6h-6.3zM823.2,564.7h6.2v5.6h-6.2zM831.3,546.2h6.2v5.6h-6.2zM839.2,527.7h6.2v5.6h-6.2zM846.4,510.7h6.2v5.6h-6.2zM854.4,491.3h6.2v5.6h-6.2zM862.4,471.9h6.2v5.6h-6.2zM870.3,452.5h6.2v5.6h-6.2zM878.3,433.1h6.2v5.6h-6.2zM886.1,414.6h6.2v5.6h-6.2zM894.0,396.1h6.2v5.6h-6.2zM902.1,377.8h6.2v5.6h-6.2zM910.3,359.5h6.3v5.6h-6.3zM919.5,340.0h6.3v5.6h-6.3zM928.4,322.1h6.3v5.6h-6.3zM937.5,304.4h6.3v5.6h-6.3zM947.8,285.5h6.4v5.6h-6.4zM956.1,271.2h6.4v5.6h-6.4zM966.4,254.2h6.4v5.6h-6.4z" fill="#c00000"/>
<g fill="#fff" stroke="#000" stroke-width="1.5"><circle cx="268.5" cy="851.5" r="9.8"/><circle cx="300.0" cy="845.0" r="9.8"/><circle cx="334.4" cy="841.3" r="9.8"/><circle cx="351.1" cy="836.1" r="9.8"/><circle cx="369.1" cy="831.4" r="9.8"/><circle cx="390.9" cy="825.9" r="9.8"/><circle cx="405.8" cy="815.0" r="9.8"/><circle cx="420.6" cy="811.9" r="9.8"/><circle cx="436.3" cy="805.6" r="9.8"/><circle cx="455.0" cy="795.5" r="9.8"/><circle cx="468.3" cy="788.4" r="9.8"/><circle cx="480.8" cy="781.4" r="9.8"/><circle cx="500.0" cy="775.0" r="9.8"/><circle cx="520.2" cy="765.3" r="9.8"/><circle cx="528.4" cy="755.9" r="9.8"/><circle cx="537.9" cy="741.7" r="9.8"/><circle cx="546.8" cy="735.8" r="9.8"/><circle cx="559.6" cy="712.2" r="9.8"/><circle cx="571.4" cy="678.7" r="9.8"/><circle cx="575.6" cy="595.9" r="9.8"/><circle cx="580.7" cy="452.1" r="9.8"/><circle cx="587.0" cy="315.4" r="9.8"/><circle cx="587.5" cy="215.1" r="9.8"/><circle cx="591.2" cy="164.7" r="9.8"/><circle cx="600.5" cy="101.8" r="9.8"/><circle cx="610.5" cy="77.0" r="9.8"/></g>
<g fill="#000"><circle cx="244.8" cy="858.7" r="11.4"/><circle cx="257.4" cy="855.0" r="11.4"/><circle cx="272.7" cy="852.0" r="11.4"/><circle cx="287.5" cy="848.0" r="11.4"/><circle cx="297.0" cy="846.5" r="11.4"/><circle cx="305.0" cy="841.8" r="11.4"/><circle cx="313.7" cy="837.4" r="11.4"/><circle cx="324.7" cy="828.6" r="11.4"/><circle cx="335.0" cy="817.6" r="11.4"/><circle cx="342.8" cy="798.8" r="11.4"/><circle cx="348.9" cy="780.3" r="11.4"/><circle cx="356.8" cy="748.2" r="11.4"/><circle cx="363.9" cy="695.3" r="11.4"/><circle cx="367.8" cy="643.1" r="11.4"/><circle cx="375.4" cy="590.6" r="11.4"/><circle cx="378.8" cy="526.1" r="11.4"/><circle cx="385.0" cy="474.0" r="11.4"/><circle cx="388.4" cy="414.5" r="11.4"/><circle cx="392.9" cy="365.0" r="11.4"/><circle cx="397.7" cy="321.0" r="11.4"/><circle cx="401.1" cy="286.8" r="11.4"/><circle cx="406.8" cy="253.0" r="11.4"/><circle cx="413.0" cy="222.5" r="11.4"/><circle cx="419.9" cy="188.8" r="11.4"/><circle cx="429.1" cy="159.4" r="11.4"/><circle cx="439.6" cy="137.5" r="11.4"/><circle cx="451.8" cy="118.6" r="11.4"/><circle cx="460.8" cy="102.6" r="11.4"/><circle cx="475.7" cy="97.2" r="11.4"/><circle cx="488.5" cy="85.2" r="11.4"/><circle cx="506.5" cy="81.5" r="11.4"/><circle cx="519.4" cy="74.2" r="11.4"/><circle cx="538.9" cy="74.7" r="11.4"/><circle cx="558.0" cy="71.0" r="11.4"/><circle cx="577.0" cy="65.0" r="11.4"/><circle cx="600.0" cy="66.0" r="11.4"/><circle cx="622.0" cy="66.0" r="11.4"/><circle cx="645.0" cy="64.0" r="11.4"/><circle cx="670.5" cy="65.0" r="11.4"/><circle cx="700.0" cy="61.5" r="11.4"/><circle cx="729.0" cy="58.5" r="11.4"/><circle cx="769.4" cy="59.3" r="11.4"/></g>
<path d="M336.5,844.8h25.0v25.0h-25.0zM345.5,843.0h25.0v25.0h-25.0zM353.5,841.5h25.0v25.0h-25.0zM365.5,839.5h25.0v25.0h-25.0zM378.5,837.5h25.0v25.0h-25.0zM392.5,837.5h25.0v25.0h-25.0zM405.5,836.5h25.0v25.0h-25.0zM418.0,834.0h25.0v25.0h-25.0zM429.5,831.0h25.0v25.0h-25.0zM443.5,824.0h25.0v25.0h-25.0zM454.5,815.5h25.0v25.0h-25.0zM464.0,808.0h25.0v25.0h-25.0zM471.0,798.2h25.0v25.0h-25.0zM479.0,785.8h25.0v25.0h-25.0zM483.5,772.5h25.0v25.0h-25.0zM488.3,760.5h25.0v25.0h-25.0zM493.5,741.5h25.0v25.0h-25.0zM498.0,723.5h25.0v25.0h-25.0zM501.5,696.5h25.0v25.0h-25.0zM508.9,664.3h25.0v25.0h-25.0zM510.9,627.7h25.0v25.0h-25.0zM514.1,589.0h25.0v25.0h-25.0zM517.5,545.0h25.0v25.0h-25.0zM521.4,496.0h25.0v25.0h-25.0zM527.3,443.1h25.0v25.0h-25.0zM529.7,395.7h25.0v25.0h-25.0zM532.3,343.2h25.0v25.0h-25.0zM538.2,283.2h25.0v25.0h-25.0zM542.3,235.5h25.0v25.0h-25.0zM547.0,189.8h25.0v25.0h-25.0zM551.5,156.5h25.0v25.0h-25.0zM554.0,133.5h25.0v25.0h-25.0zM557.5,114.8h25.0v25.0h-25.0zM561.5,100.2h25.0v25.0h-25.0zM564.5,84.9h25.0v25.0h-25.0zM568.0,73.5h25.0v25.0h-25.0zM573.5,66.5h25.0v25.0h-25.0zM579.5,62.5h25.0v25.0h-25.0zM586.5,56.0h25.0v25.0h-25.0zM594.5,52.5h25.0v25.0h-25.0zM606.5,50.9h25.0v25.0h-25.0zM618.1,48.9h25.0v25.0h-25.0zM621.5,46.0h25.0v25.0h-25.0zM628.4,44.7h25.0v25.0h-25.0zM644.5,42.7h25.0v25.0h-25.0zM658.5,42.1h25.0v25.0h-25.0zM669.5,40.0h25.0v25.0h-25.0zM679.9,38.3h25.0v25.0h-25.0zM696.0,38.6h25.0v25.0h-25.0zM707.5,38.5h25.0v25.0h-25.0zM719.5,38.5h25.0v25.0h-25.0zM731.5,38.5h25.0v25.0h-25.0zM743.5,38.5h25.0v25.0h-25.0zM755.5,38.5h25.0v25.0h-25.0zM766.0,38.3h25.0v25.0h-25.0z" fill="#0000cc"/>
<path d="M376.2,844.8l14.5,14.5l-14.5,14.5l-14.5,-14.5zM409.8,837.0l14.5,14.5l-14.5,14.5l-14.5,-14.5zM444.9,833.7l14.5,14.5l-14.5,14.5l-14.5,-14.5zM481.1,833.0l14.5,14.5l-14.5,14.5l-14.5,-14.5zM521.0,826.5l14.5,14.5l-14.5,14.5l-14.5,-14.5zM546.2,821.8l14.5,14.5l-14.5,14.5l-14.5,-14.5zM576.8,811.2l14.5,14.5l-14.5,14.5l-14.5,-14.5zM599.6,802.2l14.5,14.5l-14.5,14.5l-14.5,-14.5zM621.5,787.2l14.5,14.5l-14.5,14.5l-14.5,-14.5zM640.7,781.0l14.5,14.5l-14.5,14.5l-14.5,-14.5zM657.8,765.7l14.5,14.5l-14.5,14.5l-14.5,-14.5zM679.0,751.0l14.5,14.5l-14.5,14.5l-14.5,-14.5zM697.4,732.0l14.5,14.5l-14.5,14.5l-14.5,-14.5zM710.4,712.9l14.5,14.5l-14.5,14.5l-14.5,-14.5zM727.5,686.8l14.5,14.5l-14.5,14.5l-14.5,-14.5zM740.7,656.7l14.5,14.5l-14.5,14.5l-14.5,-14.5zM758.0,623.3l14.5,14.5l-14.5,14.5l-14.5,-14.5zM770.1,589.3l14.5,14.5l-14.5,14.5l-14.5,-14.5zM782.7,545.0l14.5,14.5l-14.5,14.5l-14.5,-14.5zM795.5,487.9l14.5,14.5l-14.5,14.5l-14.5,-14.5zM802.8,443.6l14.5,14.5l-14.5,14.5l-14.5,-14.5zM809.6,398.0l14.5,14.5l-14.5,14.5l-14.5,-14.5zM816.8,349.0l14.5,14.5l-14.5,14.5l-14.5,-14.5zM823.5,308.3l14.5,14.5l-14.5,14.5l-14.5,-14.5zM828.3,262.5l14.5,14.5l-14.5,14.5l-14.5,-14.5zM833.3,233.5l14.5,14.5l-14.5,14.5l-14.5,-14.5zM835.5,237.7l14.5,14.5l-14.5,14.5l-14.5,-14.5zM841.7,196.4l14.5,14.5l-14.5,14.5l-14.5,-14.5zM845.0,169.5l14.5,14.5l-14.5,14.5l-14.5,-14.5zM850.5,158.0l14.5,14.5l-14.5,14.5l-14.5,-14.5zM857.5,135.0l14.5,14.5l-14.5,14.5l-14.5,-14.5zM861.5,125.5l14.5,14.5l-14.5,14.5l-14.5,-14.5zM865.5,115.5l14.5,14.5l-14.5,14.5l-14.5,-14.5zM869.3,106.9l14.5,14.5l-14.5,14.5l-14.5,-14.5zM869.3,106.9l14.5,14.5l-14.5,14.5l-14.5,-14.5zM871.6,102.7l14.5,14.5l-14.5,14.5l-14.5,-14.5zM874.0,98.5l14.5,14.5l-14.5,14.5l-14.5,-14.5zM877.0,93.5l14.5,14.5l-14.5,14.5l-14.5,-14.5zM880.0,88.5l14.5,14.5l-14.5,14.5l-14.5,-14.5zM883.5,84.5l14.5,14.5l-14.5,14.5l-14.5,-14.5zM887.0,80.5l14.5,14.5l-14.5,14.5l-14.5,-14.5zM890.5,77.0l14.5,14.5l-14.5,14.5l-14.5,-14.5zM894.0,73.5l14.5,14.5l-14.5,14.5l-14.5,-14.5zM897.5,69.8l14.5,14.5l-14.5,14.5l-14.5,-14.5zM901.0,66.0l14.5,14.5l-14.5,14.5l-14.5,-14.5zM904.5,62.5l14.5,14.5l-14.5,14.5l-14.5,-14.5zM908.0,59.0l14.5,14.5l-14.5,14.5l-14.5,-14.5zM911.5,55.8l14.5,14.5l-14.5,14.5l-14.5,-14.5zM915.0,52.5l14.5,14.5l-14.5,14.5l-14.5,-14.5zM918.5,49.0l14.5,14.5l-14.5,14.5l-14.5,-14.5zM922.0,45.5l14.5,14.5l-14.5,14.5l-14.5,-14.5zM925.5,42.5l14.5,14.5l-14.5,14.5l-14.5,-14.5zM929.0,39.5l14.5,14.5l-14.5,14.5l-14.5,-14.5zM932.5,37.0l14.5,14.5l-14.5,14.5l-14.5,-14.5zM936.0,34.5l14.5,14.5l-14.5,14.5l-14.5,-14.5zM939.5,32.5l14.5,14.5l-14.5,14.5l-14.5,-14.5zM943.0,30.5l14.5,14.5l-14.5,14.5l-14.5,-14.5zM950.0,28.5l14.5,14.5l-14.5,14.5l-14.5,-14.5zM956.0,29.0l14.5,14.5l-14.5,14.5l-14.5,-14.5zM959.0,30.5l14.5,14.5l-14.5,14.5l-14.5,-14.5zM920.0,55.5l14.5,14.5l-14.5,14.5l-14.5,-14.5zM924.0,52.0l14.5,14.5l-14.5,14.5l-14.5,-14.5zM928.0,48.5l14.5,14.5l-14.5,14.5l-14.5,-14.5zM932.0,45.0l14.5,14.5l-14.5,14.5l-14.5,-14.5zM936.0,41.5l14.5,14.5l-14.5,14.5l-14.5,-14.5zM940.0,38.5l14.5,14.5l-14.5,14.5l-14.5,-14.5zM944.0,35.5l14.5,14.5l-14.5,14.5l-14.5,-14.5zM952.0,31.5l14.5,14.5l-14.5,14.5l-14.5,-14.5zM959.0,30.5l14.5,14.5l-14.5,14.5l-14.5,-14.5z" fill="#c00000"/>
</g>
<rect x="142.4" y="26.8" width="841.7" height="839.7" fill="none" stroke="#000" stroke-width="1.5"/>
<text x="121" y="876.7" font-size="42" text-anchor="end">0</text>
<text x="121" y="708.8" font-size="42" text-anchor="end">20</text>
<text x="121" y="540.8" font-size="42" text-anchor="end">40</text>
<text x="121" y="372.9" font-size="42" text-anchor="end">60</text>
<text x="121" y="204.9" font-size="42" text-anchor="end">80</text>
<text x="121" y="37.0" font-size="42" text-anchor="end">100</text>
<text x="142.4" y="929.3" font-size="42" text-anchor="middle">360</text>
<text x="310.7" y="929.3" font-size="42" text-anchor="middle">384</text>
<text x="479.1" y="929.3" font-size="42" text-anchor="middle">408</text>
<text x="647.4" y="929.3" font-size="42" text-anchor="middle">432</text>
<text x="815.8" y="929.3" font-size="42" text-anchor="middle">456</text>
<text x="984.1" y="929.3" font-size="42" text-anchor="middle">480</text>
<text x="413.2" y="1003" font-size="42" letter-spacing="0.42">Temperature [K]</text>
<text transform="translate(40.7,449.2) rotate(-90)" font-size="42" text-anchor="middle" letter-spacing="0.1">Percentage CO Conversion [%]</text>
<rect x="149.5" y="37" width="227.5" height="220.2" fill="#fff" stroke="#000" stroke-width="3"/>
<circle cx="206.4" cy="64.7" r="10.5" fill="none" stroke="#000" stroke-width="1.4"/>
<rect x="195.8" y="86.6" width="24.2" height="24.2" fill="none" stroke="#0000cc" stroke-width="1.4"/>
<path d="M207.8,118l13.6,13.6l-13.6,13.6l-13.6,-13.6z" fill="none" stroke="#c00000" stroke-width="1.5"/>
<path d="M165.4,163.9H249.8" stroke="#000" stroke-width="6"/>
<path d="M184,196.5H201.5M222,196.5H245.5" stroke="#0000cc" stroke-width="5.4"/>
<path d="M165.4,229.8H248" stroke="#c00000" stroke-width="5.4" stroke-dasharray="7.5 11.3"/>
<text x="257" y="75.5" font-size="27.5" fill="#000" letter-spacing="0.25">21%</text>
<text x="257" y="108.0" font-size="27.5" fill="#0000cc" letter-spacing="0.25">44%</text>
<text x="257" y="140.5" font-size="27.5" fill="#c00000" letter-spacing="0.25">56%</text>
<text x="257" y="173.4" font-size="27.5" fill="#000" letter-spacing="0.25">21% sim</text>
<text x="257" y="206.0" font-size="27.5" fill="#0000cc" letter-spacing="0.25">44% sim</text>
<text x="257" y="238.9" font-size="27.5" fill="#c00000" letter-spacing="0.25">56% sim</text>
<rect x="152" y="262" width="206" height="98" fill="#fff"/>
<text x="159" y="287.6" font-size="27.5" letter-spacing="0.3">symbols</text>
<path d="M159,290.4H261.9" stroke="#000" stroke-width="2"/>
<text x="159" y="319.8" font-size="27.5" letter-spacing="0.3">open: light-off</text>
<text x="159" y="352.8" font-size="27.5" letter-spacing="0.3">solid: extinction</text>
<text x="794" y="794.3" font-size="31.5" letter-spacing="0.3">Arnby</text>
<text x="795" y="832" font-size="31.5" letter-spacing="0.3">et al. 2005</text>
</svg></body></html>
